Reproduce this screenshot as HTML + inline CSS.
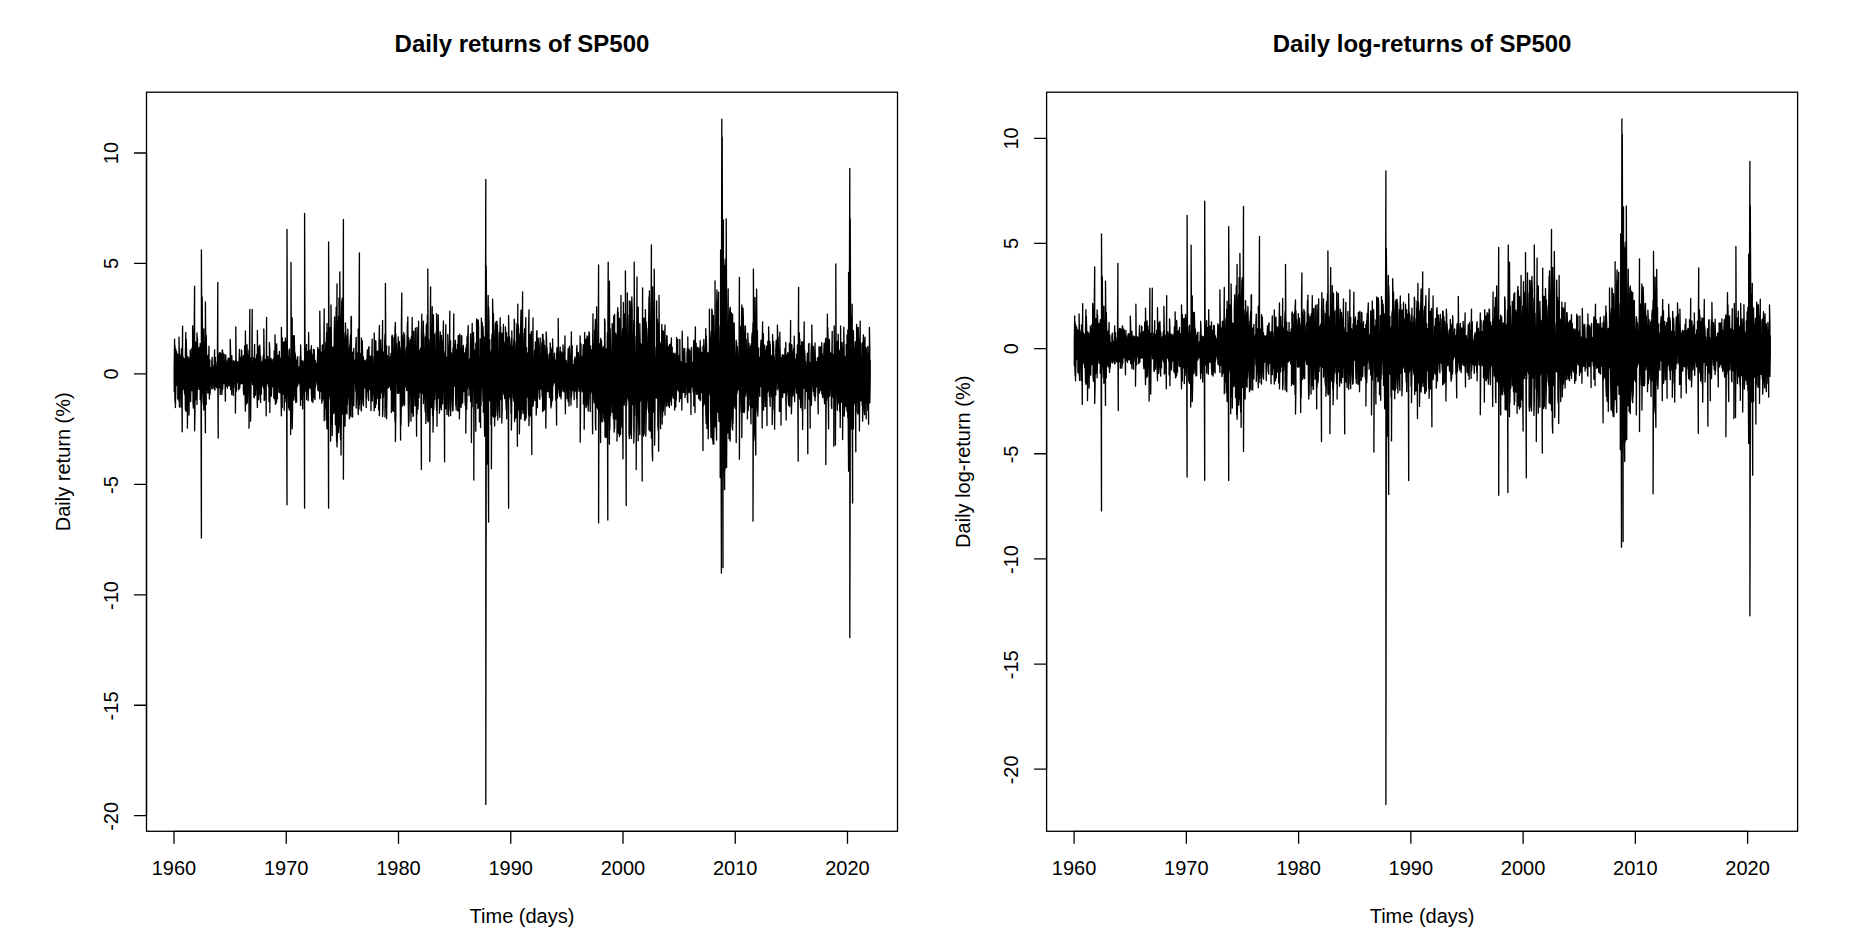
<!DOCTYPE html>
<html lang="en"><head><meta charset="utf-8"><title>Daily returns of SP500</title>
<style>
html,body{margin:0;padding:0;background:#fff;}
body{width:1872px;height:952px;overflow:hidden;}
svg{display:block;}
svg text{font-family:"Liberation Sans",Arial,Helvetica,sans-serif;fill:#000;}
</style></head><body>
<svg width="1872" height="952" viewBox="0 0 1872 952">
<rect width="1872" height="952" fill="#fff"/>
<g transform="translate(0,0)">
<path d="M174.2 391.2 174.2 366.8L174.6 339.2 174.6 385.2L175.0 402.1 175.0 345.5L175.4 364.3 175.4 407.5L175.8 391.2 175.8 349.1L176.2 368.4 176.2 385.7L176.6 379.6 176.6 351.7L177.0 358.9 177.0 380.8L177.4 385.0 177.4 362.6L177.8 354.3 177.8 399.0L178.2 383.2 178.2 362.9L178.6 358.1 178.6 386.3L179.0 401.3 179.0 337.1L179.4 361.2 179.4 407.1L179.8 386.0 179.8 357.2L180.2 357.8 180.2 388.0L180.6 387.7 180.6 358.8L181.0 354.1 181.0 407.2L181.4 388.5 181.4 348.8L181.8 362.1 181.8 385.8L182.2 431.8 182.2 365.5L182.6 326.2 182.6 389.1L183.0 389.0 183.0 356.6L183.4 360.6 183.4 387.0L183.8 386.0 183.8 358.6L184.2 358.9 184.2 388.7L184.6 393.9 184.6 366.3L185.0 362.0 185.0 378.7L185.4 409.2 185.4 355.2L185.8 332.5 185.8 411.0L186.2 411.0 186.2 339.4L186.6 353.0 186.6 402.2L187.0 397.3 187.0 361.7L187.4 367.2 187.4 428.0L187.8 390.4 187.8 356.4L188.2 358.4 188.2 375.3L188.6 385.4 188.6 358.7L189.0 361.8 189.0 415.0L189.4 384.1 189.4 361.7L189.8 357.4 189.8 395.7L190.2 379.9 190.2 350.0L190.6 357.1 190.6 401.7L191.0 383.8 191.0 353.3L191.4 361.9 191.4 388.5L191.8 390.7 191.8 348.4L192.2 367.7 192.2 384.6L192.6 385.8 192.6 326.0L193.0 335.2 193.0 403.2L193.4 408.0 193.4 374.9L193.8 359.3 193.8 394.6L194.2 392.8 194.2 326.0L194.6 286.2 194.6 430.8L195.0 411.5 195.0 352.9L195.4 345.0 195.4 400.3L195.8 383.9 195.8 342.1L196.2 350.9 196.2 399.3L196.6 394.9 196.6 365.6L197.0 332.9 197.0 404.4L197.4 383.5 197.4 337.7L197.8 354.2 197.8 379.9L198.2 384.2 198.2 356.7L198.6 355.0 198.6 385.1L199.0 389.4 199.0 347.3L199.4 360.5 199.4 381.4L199.8 384.5 199.8 368.4L200.2 343.3 200.2 399.6L200.6 388.4 200.6 353.4L201.0 355.7 201.0 393.4L201.4 538.0 201.4 250.0L201.8 331.9 201.8 404.1L202.2 381.5 202.2 297.0L202.6 352.5 202.6 386.3L203.0 393.4 203.0 364.3L203.4 349.6 203.4 391.8L203.8 410.0 203.8 328.8L204.2 355.3 204.2 379.3L204.6 375.1 204.6 355.5L205.0 353.0 205.0 386.0L205.4 432.8 205.4 302.0L205.8 346.5 205.8 384.8L206.2 404.4 206.2 335.4L206.6 355.1 206.6 390.5L207.0 385.7 207.0 355.9L207.4 367.0 207.4 379.6L207.8 393.0 207.8 362.0L208.2 355.2 208.2 392.1L208.6 388.7 208.6 362.0L209.0 346.2 209.0 383.8L209.4 399.0 209.4 361.9L209.8 360.1 209.8 394.9L210.2 392.2 210.2 367.1L210.6 370.0 210.6 382.4L211.0 379.6 211.0 368.3L211.4 367.6 211.4 380.8L211.8 388.8 211.8 361.1L212.2 357.5 212.2 388.8L212.6 381.1 212.6 365.0L213.0 370.5 213.0 378.0L213.4 383.5 213.4 371.9L213.8 367.2 213.8 388.2L214.2 382.6 214.2 364.8L214.6 349.8 214.6 389.9L215.0 389.8 215.0 359.8L215.4 357.3 215.4 383.6L215.8 386.1 215.8 362.0L216.2 369.9 216.2 378.8L216.6 387.6 216.6 372.9L217.0 366.2 217.0 382.3L217.4 387.8 217.4 364.9L217.8 282.5 217.8 377.6L218.2 438.0 218.2 364.9L218.6 356.0 218.6 383.1L219.0 387.8 219.0 358.3L219.4 352.6 219.4 385.1L219.8 380.5 219.8 366.4L220.2 356.8 220.2 394.4L220.6 382.7 220.6 352.9L221.0 353.9 221.0 386.5L221.4 381.6 221.4 365.9L221.8 360.2 221.8 394.4L222.2 389.8 222.2 349.9L222.6 350.5 222.6 389.5L223.0 382.4 223.0 352.7L223.4 364.3 223.4 378.7L223.8 383.6 223.8 367.7L224.2 354.3 224.2 383.1L224.6 380.9 224.6 363.5L225.0 364.8 225.0 380.3L225.4 401.2 225.4 365.5L225.8 354.9 225.8 380.6L226.2 386.3 226.2 360.2L226.6 364.3 226.6 381.1L227.0 376.7 227.0 366.5L227.4 365.4 227.4 388.3L227.8 381.3 227.8 361.0L228.2 358.1 228.2 379.8L228.6 385.5 228.6 371.0L229.0 358.4 229.0 381.8L229.4 378.1 229.4 366.5L229.8 365.2 229.8 385.9L230.2 382.3 230.2 339.5L230.6 350.8 230.6 389.6L231.0 384.6 231.0 369.7L231.4 360.5 231.4 384.6L231.8 394.7 231.8 355.6L232.2 369.5 232.2 380.2L232.6 377.7 232.6 370.4L233.0 362.5 233.0 381.0L233.4 395.5 233.4 360.7L233.8 361.0 233.8 387.7L234.2 380.4 234.2 368.0L234.6 366.0 234.6 378.1L235.0 378.5 235.0 362.4L235.4 361.0 235.4 413.0L235.8 380.8 235.8 326.8L236.2 370.0 236.2 391.3L236.6 389.9 236.6 366.0L237.0 361.3 237.0 383.3L237.4 378.4 237.4 367.5L237.8 364.6 237.8 381.5L238.2 378.6 238.2 362.2L238.6 362.5 238.6 389.7L239.0 389.2 239.0 365.2L239.4 349.5 239.4 382.0L239.8 387.8 239.8 356.5L240.2 359.9 240.2 378.3L240.6 378.1 240.6 361.0L241.0 364.6 241.0 383.9L241.4 379.5 241.4 349.9L241.8 351.0 241.8 379.3L242.2 383.5 242.2 364.4L242.6 357.6 242.6 381.8L243.0 382.1 243.0 362.8L243.4 355.7 243.4 389.7L243.8 394.8 243.8 365.9L244.2 359.3 244.2 378.7L244.6 387.9 244.6 346.0L245.0 348.2 245.0 388.7L245.4 411.2 245.4 331.0L245.8 355.8 245.8 395.3L246.2 386.2 246.2 364.2L246.6 349.0 246.6 404.0L247.0 395.2 247.0 344.7L247.4 356.2 247.4 402.5L247.8 387.0 247.8 354.8L248.2 359.7 248.2 382.7L248.6 385.7 248.6 360.3L249.0 350.0 249.0 428.2L249.4 390.9 249.4 367.1L249.8 309.5 249.8 377.0L250.2 385.4 250.2 359.5L250.6 365.9 250.6 421.2L251.0 385.1 251.0 357.8L251.4 367.9 251.4 380.8L251.8 379.8 251.8 359.3L252.2 309.5 252.2 377.7L252.6 384.6 252.6 368.3L253.0 363.5 253.0 379.8L253.4 375.4 253.4 365.0L253.8 357.4 253.8 397.0L254.2 397.8 254.2 363.1L254.6 344.3 254.6 389.1L255.0 390.5 255.0 358.8L255.4 358.9 255.4 395.3L255.8 384.8 255.8 364.4L256.2 359.4 256.2 381.5L256.6 386.1 256.6 354.7L257.0 362.6 257.0 393.6L257.4 407.5 257.4 330.5L257.8 364.8 257.8 380.9L258.2 384.1 258.2 346.6L258.6 357.2 258.6 399.8L259.0 393.2 259.0 362.4L259.4 346.2 259.4 390.7L259.8 386.6 259.8 345.2L260.2 357.4 260.2 386.3L260.6 402.6 260.6 356.5L261.0 363.8 261.0 388.1L261.4 394.1 261.4 371.0L261.8 368.0 261.8 380.6L262.2 379.9 262.2 362.7L262.6 361.0 262.6 383.1L263.0 386.6 263.0 359.5L263.4 355.0 263.4 385.1L263.8 388.7 263.8 329.0L264.2 356.7 264.2 400.4L264.6 399.4 264.6 365.4L265.0 359.9 265.0 386.1L265.4 385.1 265.4 359.8L265.8 367.5 265.8 377.8L266.2 415.8 266.2 372.2L266.6 317.5 266.6 383.1L267.0 379.0 267.0 371.2L267.4 370.3 267.4 383.9L267.8 382.5 267.8 356.4L268.2 368.5 268.2 383.3L268.6 387.2 268.6 359.8L269.0 363.1 269.0 401.4L269.4 392.4 269.4 342.4L269.8 351.3 269.8 412.5L270.2 384.8 270.2 367.1L270.6 365.0 270.6 385.6L271.0 388.5 271.0 358.3L271.4 365.4 271.4 396.2L271.8 384.5 271.8 364.6L272.2 359.6 272.2 386.1L272.6 386.8 272.6 367.7L273.0 365.1 273.0 381.4L273.4 385.7 273.4 365.2L273.8 358.1 273.8 398.2L274.2 393.5 274.2 350.9L274.6 353.3 274.6 397.5L275.0 400.0 275.0 335.0L275.4 355.9 275.4 404.3L275.8 404.0 275.8 360.1L276.2 352.8 276.2 401.8L276.6 402.1 276.6 344.0L277.0 360.3 277.0 398.9L277.4 398.6 277.4 367.1L277.8 362.1 277.8 383.2L278.2 384.4 278.2 355.3L278.6 369.6 278.6 382.1L279.0 392.2 279.0 364.6L279.4 351.5 279.4 383.5L279.8 392.7 279.8 367.9L280.2 366.4 280.2 392.3L280.6 388.7 280.6 358.3L281.0 358.0 281.0 393.4L281.4 415.8 281.4 327.5L281.8 360.2 281.8 402.2L282.2 407.7 282.2 338.0L282.6 355.2 282.6 386.6L283.0 394.1 283.0 342.1L283.4 354.3 283.4 389.6L283.8 389.0 283.8 348.2L284.2 342.1 284.2 410.3L284.6 389.3 284.6 355.6L285.0 341.4 285.0 402.0L285.4 387.1 285.4 337.8L285.8 346.5 285.8 380.1L286.2 397.9 286.2 341.9L286.6 346.1 286.6 392.6L287.0 504.8 287.0 229.5L287.4 363.2 287.4 392.8L287.8 386.9 287.8 357.0L288.2 361.4 288.2 384.3L288.6 407.6 288.6 365.1L289.0 350.4 289.0 408.2L289.4 410.1 289.4 349.0L289.8 367.1 289.8 394.0L290.2 396.5 290.2 366.5L290.6 358.5 290.6 434.5L291.0 406.9 291.0 262.5L291.4 354.6 291.4 397.1L291.8 411.5 291.8 327.0L292.2 318.0 292.2 428.8L292.6 408.8 292.6 340.3L293.0 346.5 293.0 399.1L293.4 395.9 293.4 335.6L293.8 351.1 293.8 400.1L294.2 396.0 294.2 335.6L294.6 350.2 294.6 391.4L295.0 391.5 295.0 352.7L295.4 355.3 295.4 390.8L295.8 402.5 295.8 359.1L296.2 365.3 296.2 395.0L296.6 401.9 296.6 360.7L297.0 364.6 297.0 386.9L297.4 384.2 297.4 357.0L297.8 356.9 297.8 385.6L298.2 378.2 298.2 372.8L298.6 367.5 298.6 382.9L299.0 382.6 299.0 367.0L299.4 369.6 299.4 375.4L299.8 384.3 299.8 371.7L300.2 356.1 300.2 388.2L300.6 405.4 300.6 344.9L301.0 357.9 301.0 399.8L301.4 399.2 301.4 360.3L301.8 362.2 301.8 378.2L302.2 393.8 302.2 361.5L302.6 364.1 302.6 408.8L303.0 381.2 303.0 360.9L303.4 366.3 303.4 394.5L303.8 391.6 303.8 368.4L304.2 362.9 304.2 384.7L304.6 508.0 304.6 213.5L305.0 344.2 305.0 385.9L305.4 380.7 305.4 351.6L305.8 359.1 305.8 391.2L306.2 384.5 306.2 351.6L306.6 344.3 306.6 399.5L307.0 384.3 307.0 362.9L307.4 359.2 307.4 383.4L307.8 385.6 307.8 351.5L308.2 365.9 308.2 400.8L308.6 385.2 308.6 332.5L309.0 363.1 309.0 388.1L309.4 384.1 309.4 368.6L309.8 357.8 309.8 387.8L310.2 378.1 310.2 350.2L310.6 350.5 310.6 388.2L311.0 388.8 311.0 356.9L311.4 345.7 311.4 393.9L311.8 401.1 311.8 353.8L312.2 356.0 312.2 382.1L312.6 391.0 312.6 364.8L313.0 361.3 313.0 402.5L313.4 380.7 313.4 349.4L313.8 352.5 313.8 383.5L314.2 397.6 314.2 349.6L314.6 363.1 314.6 385.1L315.0 399.5 315.0 370.6L315.4 360.6 315.4 387.3L315.8 380.8 315.8 367.6L316.2 363.5 316.2 379.0L316.6 380.7 316.6 365.0L317.0 363.6 317.0 380.3L317.4 385.0 317.4 359.8L317.8 347.4 317.8 389.4L318.2 390.8 318.2 365.2L318.6 349.3 318.6 384.0L319.0 384.0 319.0 364.2L319.4 361.0 319.4 386.2L319.8 398.8 319.8 311.2L320.2 347.9 320.2 386.6L320.6 391.7 320.6 351.6L321.0 353.7 321.0 389.9L321.4 391.4 321.4 356.0L321.8 359.3 321.8 403.2L322.2 397.2 322.2 345.7L322.6 344.9 322.6 400.3L323.0 382.8 323.0 359.8L323.4 357.1 323.4 398.4L323.8 395.7 323.8 351.3L324.2 308.8 324.2 420.8L324.6 395.8 324.6 350.4L325.0 353.2 325.0 408.3L325.4 386.8 325.4 362.2L325.8 342.5 325.8 396.8L326.2 419.8 326.2 346.3L326.6 332.3 326.6 402.8L327.0 428.8 327.0 323.4L327.4 340.7 327.4 415.7L327.8 382.3 327.8 359.1L328.2 338.5 328.2 401.2L328.6 508.2 328.6 242.0L329.0 336.4 329.0 398.6L329.4 389.9 329.4 346.8L329.8 327.6 329.8 393.4L330.2 395.4 330.2 353.9L330.6 364.2 330.6 441.2L331.0 377.1 331.0 305.0L331.4 340.2 331.4 423.8L331.8 400.2 331.8 352.8L332.2 346.8 332.2 435.5L332.6 402.4 332.6 354.8L333.0 349.7 333.0 399.8L333.4 413.3 333.4 347.3L333.8 348.5 333.8 389.0L334.2 384.0 334.2 332.5L334.6 316.8 334.6 410.8L335.0 413.3 335.0 351.4L335.4 330.6 335.4 424.7L335.8 385.7 335.8 343.5L336.2 307.1 336.2 414.4L336.6 442.0 336.6 360.4L337.0 283.8 337.0 446.9L337.4 433.0 337.4 354.2L337.8 349.2 337.8 392.5L338.2 413.8 338.2 325.8L338.6 316.2 338.6 432.5L339.0 394.7 339.0 298.1L339.4 303.5 339.4 393.7L339.8 426.2 339.8 271.8L340.2 326.8 340.2 426.1L340.6 439.8 340.6 321.8L341.0 351.3 341.0 455.0L341.4 403.3 341.4 325.6L341.8 300.7 341.8 402.2L342.2 414.3 342.2 298.2L342.6 353.4 342.6 396.6L343.0 394.3 343.0 345.8L343.4 219.5 343.4 479.2L343.8 394.0 343.8 332.8L344.2 343.7 344.2 391.9L344.6 418.3 344.6 351.5L345.0 339.9 345.0 426.2L345.4 399.0 345.4 323.0L345.8 334.3 345.8 412.4L346.2 412.8 346.2 341.3L346.6 350.6 346.6 394.7L347.0 414.1 347.0 339.3L347.4 334.8 347.4 404.8L347.8 394.4 347.8 329.1L348.2 349.3 348.2 397.0L348.6 382.6 348.6 364.7L349.0 349.6 349.0 387.9L349.4 418.8 349.4 355.3L349.8 344.8 349.8 410.0L350.2 415.2 350.2 342.4L350.6 334.6 350.6 391.8L351.0 416.8 351.0 317.0L351.4 316.4 351.4 400.0L351.8 397.5 351.8 361.2L352.2 358.8 352.2 389.0L352.6 417.0 352.6 352.2L353.0 364.0 353.0 393.5L353.4 396.7 353.4 357.1L353.8 348.4 353.8 405.7L354.2 381.9 354.2 363.8L354.6 371.4 354.6 381.9L355.0 381.6 355.0 362.6L355.4 359.3 355.4 377.4L355.8 391.3 355.8 345.6L356.2 337.3 356.2 408.1L356.6 392.1 356.6 363.7L357.0 352.8 357.0 396.1L357.4 390.5 357.4 356.4L357.8 363.7 357.8 397.7L358.2 414.6 358.2 329.1L358.6 347.9 358.6 398.1L359.0 409.2 359.0 331.6L359.4 253.0 359.4 405.0L359.8 392.0 359.8 356.4L360.2 353.4 360.2 399.4L360.6 392.0 360.6 367.1L361.0 373.5 361.0 409.1L361.4 410.9 361.4 337.9L361.8 352.7 361.8 404.0L362.2 395.5 362.2 340.7L362.6 354.1 362.6 398.4L363.0 380.8 363.0 368.7L363.4 357.0 363.4 405.8L363.8 384.9 363.8 366.9L364.2 363.1 364.2 388.3L364.6 380.6 364.6 360.4L365.0 365.0 365.0 382.9L365.4 387.6 365.4 364.8L365.8 361.4 365.8 386.2L366.2 407.4 366.2 359.9L366.6 365.9 366.6 398.9L367.0 384.5 367.0 359.8L367.4 349.9 367.4 391.1L367.8 380.7 367.8 359.9L368.2 369.7 368.2 387.6L368.6 400.6 368.6 348.6L369.0 346.7 369.0 383.6L369.4 389.6 369.4 365.4L369.8 356.0 369.8 378.0L370.2 388.7 370.2 361.5L370.6 363.5 370.6 378.4L371.0 410.5 371.0 356.5L371.4 359.9 371.4 390.7L371.8 396.6 371.8 356.4L372.2 339.2 372.2 401.1L372.6 381.7 372.6 356.6L373.0 367.5 373.0 394.2L373.4 385.2 373.4 364.9L373.8 363.3 373.8 391.3L374.2 410.8 374.2 333.0L374.6 359.3 374.6 378.9L375.0 387.7 375.0 360.2L375.4 340.9 375.4 407.5L375.8 389.9 375.8 340.7L376.2 360.2 376.2 404.2L376.6 389.1 376.6 363.8L377.0 351.1 377.0 379.7L377.4 385.4 377.4 363.4L377.8 362.5 377.8 398.6L378.2 393.6 378.2 351.2L378.6 359.7 378.6 409.9L379.0 394.4 379.0 344.6L379.4 325.5 379.4 415.7L379.8 389.3 379.8 355.8L380.2 363.9 380.2 382.4L380.6 398.2 380.6 339.9L381.0 354.5 381.0 393.6L381.4 381.0 381.4 362.1L381.8 353.7 381.8 391.8L382.2 392.0 382.2 353.9L382.6 320.5 382.6 416.4L383.0 408.0 383.0 364.9L383.4 352.1 383.4 397.1L383.8 389.4 383.8 352.7L384.2 352.6 384.2 383.6L384.6 382.3 384.6 344.8L385.0 334.1 385.0 417.0L385.4 393.9 385.4 283.5L385.8 347.1 385.8 388.5L386.2 407.0 386.2 363.0L386.6 346.2 386.6 418.8L387.0 387.5 387.0 356.1L387.4 355.6 387.4 385.8L387.8 381.7 387.8 368.3L388.2 369.1 388.2 388.0L388.6 386.9 388.6 369.7L389.0 346.1 389.0 386.6L389.4 386.5 389.4 367.0L389.8 357.5 389.8 385.7L390.2 380.6 390.2 361.4L390.6 356.6 390.6 389.8L391.0 388.9 391.0 353.4L391.4 357.2 391.4 412.4L391.8 391.8 391.8 337.2L392.2 335.2 392.2 384.8L392.6 410.3 392.6 348.9L393.0 337.4 393.0 381.6L393.4 411.4 393.4 370.7L393.8 350.0 393.8 381.7L394.2 394.7 394.2 357.8L394.6 334.9 394.6 392.9L395.0 421.7 395.0 329.6L395.4 322.3 395.4 441.5L395.8 416.0 395.8 333.7L396.2 347.3 396.2 377.8L396.6 377.4 396.6 343.3L397.0 361.0 397.0 377.5L397.4 393.3 397.4 349.6L397.8 362.6 397.8 382.7L398.2 384.6 398.2 337.0L398.6 360.8 398.6 393.3L399.0 391.5 399.0 348.1L399.4 341.7 399.4 386.4L399.8 384.7 399.8 346.9L400.2 353.3 400.2 395.5L400.6 440.0 400.6 355.3L401.0 364.8 401.0 425.1L401.4 397.5 401.4 323.3L401.8 293.0 401.8 386.6L402.2 400.5 402.2 334.7L402.6 342.9 402.6 406.1L403.0 378.1 403.0 355.1L403.4 348.0 403.4 403.8L403.8 401.6 403.8 332.4L404.2 349.2 404.2 403.1L404.6 405.3 404.6 335.0L405.0 370.5 405.0 385.6L405.4 379.9 405.4 358.2L405.8 357.9 405.8 381.8L406.2 387.6 406.2 351.4L406.6 346.8 406.6 390.4L407.0 389.5 407.0 345.4L407.4 322.5 407.4 390.5L407.8 384.8 407.8 317.0L408.2 365.8 408.2 400.7L408.6 426.2 408.6 337.3L409.0 347.2 409.0 422.6L409.4 392.5 409.4 357.6L409.8 361.8 409.8 390.2L410.2 382.7 410.2 340.8L410.6 339.5 410.6 384.3L411.0 421.0 411.0 350.3L411.4 336.5 411.4 407.5L411.8 412.8 411.8 350.9L412.2 317.5 412.2 403.3L412.6 401.4 412.6 346.1L413.0 344.6 413.0 416.6L413.4 415.6 413.4 331.1L413.8 331.6 413.8 395.7L414.2 385.1 414.2 350.9L414.6 352.4 414.6 387.2L415.0 405.8 415.0 356.2L415.4 328.2 415.4 404.0L415.8 393.9 415.8 346.5L416.2 354.7 416.2 390.1L416.6 436.2 416.6 361.1L417.0 327.3 417.0 414.3L417.4 397.4 417.4 346.5L417.8 334.4 417.8 409.4L418.2 405.3 418.2 359.3L418.6 321.2 418.6 393.8L419.0 397.7 419.0 364.9L419.4 350.4 419.4 393.1L419.8 392.2 419.8 362.1L420.2 353.6 420.2 374.7L420.6 386.6 420.6 348.2L421.0 352.1 421.0 401.2L421.4 469.5 421.4 335.3L421.8 314.2 421.8 383.6L422.2 393.5 422.2 365.2L422.6 345.8 422.6 390.7L423.0 392.0 423.0 350.7L423.4 321.2 423.4 403.6L423.8 394.6 423.8 333.8L424.2 358.7 424.2 394.1L424.6 391.0 424.6 358.6L425.0 367.9 425.0 407.6L425.4 412.2 425.4 337.0L425.8 338.6 425.8 423.4L426.2 415.2 426.2 327.8L426.6 323.8 426.6 393.6L427.0 389.8 427.0 347.1L427.4 315.2 427.4 383.5L427.8 420.8 427.8 268.8L428.2 353.5 428.2 422.0L428.6 381.1 428.6 339.2L429.0 345.9 429.0 420.1L429.4 412.7 429.4 362.0L429.8 351.2 429.8 461.5L430.2 404.5 430.2 333.4L430.6 287.0 430.6 393.1L431.0 403.1 431.0 349.7L431.4 351.6 431.4 407.5L431.8 394.6 431.8 338.8L432.2 306.7 432.2 393.0L432.6 415.7 432.6 314.3L433.0 319.3 433.0 432.0L433.4 411.8 433.4 315.0L433.8 365.5 433.8 409.0L434.2 388.9 434.2 351.8L434.6 334.1 434.6 399.5L435.0 387.5 435.0 350.5L435.4 369.2 435.4 383.9L435.8 392.4 435.8 364.8L436.2 332.0 436.2 397.4L436.6 410.6 436.6 313.6L437.0 339.7 437.0 426.3L437.4 387.5 437.4 340.6L437.8 331.1 437.8 398.0L438.2 398.3 438.2 315.0L438.6 338.5 438.6 393.1L439.0 397.0 439.0 343.8L439.4 350.7 439.4 413.2L439.8 406.6 439.8 352.1L440.2 332.0 440.2 388.6L440.6 406.2 440.6 376.9L441.0 336.1 441.0 404.6L441.4 409.7 441.4 335.5L441.8 353.4 441.8 396.0L442.2 373.0 442.2 344.7L442.6 342.0 442.6 403.9L443.0 387.8 443.0 343.4L443.4 321.0 443.4 386.3L443.8 382.2 443.8 351.3L444.2 357.7 444.2 389.1L444.6 461.8 444.6 360.2L445.0 365.0 445.0 377.1L445.4 389.4 445.4 348.6L445.8 324.7 445.8 408.7L446.2 385.3 446.2 367.4L446.6 357.1 446.6 390.9L447.0 414.5 447.0 358.7L447.4 361.1 447.4 395.7L447.8 394.6 447.8 334.5L448.2 348.4 448.2 389.6L448.6 416.2 448.6 351.7L449.0 355.2 449.0 381.4L449.4 397.7 449.4 360.7L449.8 311.2 449.8 392.9L450.2 410.7 450.2 344.8L450.6 341.0 450.6 415.7L451.0 386.1 451.0 358.9L451.4 352.9 451.4 393.5L451.8 382.7 451.8 354.9L452.2 360.1 452.2 400.1L452.6 410.9 452.6 363.7L453.0 347.8 453.0 410.4L453.4 393.4 453.4 351.0L453.8 313.8 453.8 378.5L454.2 385.4 454.2 343.2L454.6 365.9 454.6 386.1L455.0 383.9 455.0 366.1L455.4 340.4 455.4 383.7L455.8 405.7 455.8 363.1L456.2 357.2 456.2 410.0L456.6 388.8 456.6 349.3L457.0 371.2 457.0 384.4L457.4 395.8 457.4 344.4L457.8 375.7 457.8 411.0L458.2 401.5 458.2 335.9L458.6 335.6 458.6 410.8L459.0 408.5 459.0 349.2L459.4 352.7 459.4 418.8L459.8 391.7 459.8 334.2L460.2 362.6 460.2 384.6L460.6 381.1 460.6 352.0L461.0 347.2 461.0 407.3L461.4 404.3 461.4 335.6L461.8 336.2 461.8 397.0L462.2 401.9 462.2 361.5L462.6 371.4 462.6 403.0L463.0 385.3 463.0 349.6L463.4 345.5 463.4 383.9L463.8 391.6 463.8 364.4L464.2 358.1 464.2 378.6L464.6 390.6 464.6 352.8L465.0 366.2 465.0 399.7L465.4 405.4 465.4 373.4L465.8 348.2 465.8 433.2L466.2 382.1 466.2 362.4L466.6 344.3 466.6 409.4L467.0 395.5 467.0 336.8L467.4 359.3 467.4 389.0L467.8 383.6 467.8 336.0L468.2 325.5 468.2 379.5L468.6 383.4 468.6 366.6L469.0 364.4 469.0 395.5L469.4 382.1 469.4 361.9L469.8 358.6 469.8 376.8L470.2 388.3 470.2 356.1L470.6 334.0 470.6 401.5L471.0 377.6 471.0 347.2L471.4 345.6 471.4 442.5L471.8 387.0 471.8 354.3L472.2 323.3 472.2 406.8L472.6 374.8 472.6 344.3L473.0 350.8 473.0 389.0L473.4 377.9 473.4 332.5L473.8 344.6 473.8 480.0L474.2 391.1 474.2 356.8L474.6 369.0 474.6 386.2L475.0 387.6 475.0 350.2L475.4 352.1 475.4 383.3L475.8 431.2 475.8 343.4L476.2 349.5 476.2 399.8L476.6 389.4 476.6 318.9L477.0 320.5 477.0 403.1L477.4 386.1 477.4 363.2L477.8 331.6 477.8 408.5L478.2 407.0 478.2 319.9L478.6 327.0 478.6 385.0L479.0 390.1 479.0 358.2L479.4 367.8 479.4 421.8L479.8 405.0 479.8 372.5L480.2 338.8 480.2 396.6L480.6 427.5 480.6 340.7L481.0 341.7 481.0 405.6L481.4 379.3 481.4 318.2L481.8 335.0 481.8 387.4L482.2 386.8 482.2 322.7L482.6 351.5 482.6 380.9L483.0 401.2 483.0 326.6L483.4 340.3 483.4 412.3L483.8 400.6 483.8 353.5L484.2 337.1 484.2 400.9L484.6 436.2 484.6 348.0L485.0 345.4 485.0 418.5L485.4 422.5 485.4 339.8L485.8 179.3 485.8 804.4L486.2 467.0 486.2 266.0L486.6 310.6 486.6 428.0L487.0 464.0 487.0 339.3L487.4 333.1 487.4 461.0L487.8 420.8 487.8 355.6L488.2 295.5 488.2 455.0L488.6 522.0 488.6 307.0L489.0 322.0 489.0 388.3L489.4 384.9 489.4 347.7L489.8 339.8 489.8 400.4L490.2 400.9 490.2 352.2L490.6 358.7 490.6 388.5L491.0 424.4 491.0 369.4L491.4 350.2 491.4 468.8L491.8 390.2 491.8 337.6L492.2 333.8 492.2 416.0L492.6 396.6 492.6 299.2L493.0 324.4 493.0 391.2L493.4 417.1 493.4 313.4L493.8 342.6 493.8 398.0L494.2 396.2 494.2 344.5L494.6 354.2 494.6 425.9L495.0 400.4 495.0 337.7L495.4 323.2 495.4 416.7L495.8 408.7 495.8 323.6L496.2 321.5 496.2 392.5L496.6 389.5 496.6 349.8L497.0 321.5 497.0 392.8L497.4 415.7 497.4 324.8L497.8 338.6 497.8 420.0L498.2 390.2 498.2 351.4L498.6 351.2 498.6 405.0L499.0 388.7 499.0 369.9L499.4 332.4 499.4 407.7L499.8 417.5 499.8 344.9L500.2 317.8 500.2 384.4L500.6 399.7 500.6 326.9L501.0 352.2 501.0 392.2L501.4 380.5 501.4 360.0L501.8 333.5 501.8 423.0L502.2 409.7 502.2 348.0L502.6 333.1 502.6 389.8L503.0 390.1 503.0 363.4L503.4 324.5 503.4 390.4L503.8 394.3 503.8 349.5L504.2 344.0 504.2 383.3L504.6 398.5 504.6 356.3L505.0 341.5 505.0 392.5L505.4 394.2 505.4 326.8L505.8 339.6 505.8 399.0L506.2 409.4 506.2 352.8L506.6 332.6 506.6 418.7L507.0 393.3 507.0 344.7L507.4 337.5 507.4 398.9L507.8 399.0 507.8 362.7L508.2 345.5 508.2 398.5L508.6 508.2 508.6 315.5L509.0 341.5 509.0 399.0L509.4 391.3 509.4 336.4L509.8 348.8 509.8 390.0L510.2 396.7 510.2 348.2L510.6 348.8 510.6 382.8L511.0 413.2 511.0 348.6L511.4 338.4 511.4 430.0L511.8 398.7 511.8 330.9L512.2 353.0 512.2 383.8L512.6 384.7 512.6 346.1L513.0 349.4 513.0 389.2L513.4 398.6 513.4 353.3L513.8 339.8 513.8 401.0L514.2 396.1 514.2 319.1L514.6 323.0 514.6 421.6L515.0 383.1 515.0 352.5L515.4 354.3 515.4 388.0L515.8 418.1 515.8 353.6L516.2 341.8 516.2 415.5L516.6 405.0 516.6 331.6L517.0 323.3 517.0 391.3L517.4 446.2 517.4 359.8L517.8 304.2 517.8 410.9L518.2 393.7 518.2 324.4L518.6 329.8 518.6 409.1L519.0 395.1 519.0 333.4L519.4 342.2 519.4 433.8L519.8 406.5 519.8 336.2L520.2 351.4 520.2 395.8L520.6 407.5 520.6 329.7L521.0 310.2 521.0 419.1L521.4 407.9 521.4 326.3L521.8 339.5 521.8 395.4L522.2 389.5 522.2 332.1L522.6 291.8 522.6 406.2L523.0 413.4 523.0 332.8L523.4 347.7 523.4 385.7L523.8 409.0 523.8 355.6L524.2 343.1 524.2 396.4L524.6 420.4 524.6 329.0L525.0 352.9 525.0 420.5L525.4 403.4 525.4 332.2L525.8 317.6 525.8 418.7L526.2 416.8 526.2 358.3L526.6 347.6 526.6 387.0L527.0 394.4 527.0 363.4L527.4 359.1 527.4 397.0L527.8 392.1 527.8 352.8L528.2 354.5 528.2 402.6L528.6 415.3 528.6 327.6L529.0 309.8 529.0 425.5L529.4 409.4 529.4 339.9L529.8 350.4 529.8 391.7L530.2 397.7 530.2 334.5L530.6 345.6 530.6 416.0L531.0 398.8 531.0 339.5L531.4 331.3 531.4 393.0L531.8 454.5 531.8 341.5L532.2 362.4 532.2 392.3L532.6 386.3 532.6 356.6L533.0 318.0 533.0 406.2L533.4 402.0 533.4 360.7L533.8 358.8 533.8 398.3L534.2 389.5 534.2 363.3L534.6 350.2 534.6 387.7L535.0 400.5 535.0 358.4L535.4 342.0 535.4 390.5L535.8 381.6 535.8 367.4L536.2 362.4 536.2 415.0L536.6 404.2 536.6 333.2L537.0 330.6 537.0 407.5L537.4 407.4 537.4 355.3L537.8 340.6 537.8 397.5L538.2 377.6 538.2 338.1L538.6 349.8 538.6 389.3L539.0 381.4 539.0 371.6L539.4 351.0 539.4 386.6L539.8 399.3 539.8 347.6L540.2 337.8 540.2 388.7L540.6 384.7 540.6 358.2L541.0 359.1 541.0 385.9L541.4 389.4 541.4 364.0L541.8 342.7 541.8 386.3L542.2 396.8 542.2 346.9L542.6 334.2 542.6 411.6L543.0 393.8 543.0 334.3L543.4 360.5 543.4 384.8L543.8 410.6 543.8 340.3L544.2 369.1 544.2 393.3L544.6 383.8 544.6 345.3L545.0 354.7 545.0 409.0L545.4 388.3 545.4 358.8L545.8 369.3 545.8 428.2L546.2 397.7 546.2 332.0L546.6 339.5 546.6 386.5L547.0 391.6 547.0 347.7L547.4 359.1 547.4 378.3L547.8 391.6 547.8 355.1L548.2 369.8 548.2 381.4L548.6 380.8 548.6 362.6L549.0 359.4 549.0 383.7L549.4 397.4 549.4 353.3L549.8 360.4 549.8 391.1L550.2 388.2 550.2 343.0L550.6 356.8 550.6 398.6L551.0 407.9 551.0 349.2L551.4 351.0 551.4 405.7L551.8 396.3 551.8 362.3L552.2 347.3 552.2 400.6L552.6 398.8 552.6 339.0L553.0 354.9 553.0 385.9L553.4 383.5 553.4 356.9L553.8 358.5 553.8 383.1L554.2 380.6 554.2 367.8L554.6 353.2 554.6 377.1L555.0 382.3 555.0 364.9L555.4 361.8 555.4 379.0L555.8 400.3 555.8 362.0L556.2 359.4 556.2 394.5L556.6 425.0 556.6 357.4L557.0 347.7 557.0 398.5L557.4 397.4 557.4 347.6L557.8 366.2 557.8 393.9L558.2 377.5 558.2 318.5L558.6 361.3 558.6 388.6L559.0 384.9 559.0 361.8L559.4 372.1 559.4 389.4L559.8 396.5 559.8 356.0L560.2 347.2 560.2 387.7L560.6 388.8 560.6 355.0L561.0 362.3 561.0 398.8L561.4 389.5 561.4 351.9L561.8 368.0 561.8 380.4L562.2 382.2 562.2 369.0L562.6 353.2 562.6 387.0L563.0 391.1 563.0 345.0L563.4 355.0 563.4 388.6L563.8 387.7 563.8 355.9L564.2 353.4 564.2 391.9L564.6 389.7 564.6 357.3L565.0 336.0 565.0 381.4L565.4 413.8 565.4 370.6L565.8 364.1 565.8 390.9L566.2 379.6 566.2 360.3L566.6 368.8 566.6 379.7L567.0 398.7 567.0 367.2L567.4 364.1 567.4 383.3L567.8 377.2 567.8 362.4L568.2 348.7 568.2 401.7L568.6 389.2 568.6 357.1L569.0 357.6 569.0 406.0L569.4 381.6 569.4 346.3L569.8 360.9 569.8 388.2L570.2 386.6 570.2 355.5L570.6 355.3 570.6 384.5L571.0 405.0 571.0 358.8L571.4 332.0 571.4 397.5L571.8 391.0 571.8 367.2L572.2 345.7 572.2 385.3L572.6 385.1 572.6 364.4L573.0 366.1 573.0 390.5L573.4 388.4 573.4 365.1L573.8 365.2 573.8 388.2L574.2 399.7 574.2 361.7L574.6 359.1 574.6 389.6L575.0 389.6 575.0 356.9L575.4 362.2 575.4 391.0L575.8 385.0 575.8 358.9L576.2 368.5 576.2 383.6L576.6 398.5 576.6 349.0L577.0 345.5 577.0 407.5L577.4 380.6 577.4 352.6L577.8 363.0 577.8 381.9L578.2 374.7 578.2 352.4L578.6 359.7 578.6 384.4L579.0 391.2 579.0 365.9L579.4 356.9 579.4 386.2L579.8 384.6 579.8 358.7L580.2 336.0 580.2 442.2L580.6 402.2 580.6 350.4L581.0 343.9 581.0 392.2L581.4 386.6 581.4 361.7L581.8 356.1 581.8 381.0L582.2 375.9 582.2 364.6L582.6 364.2 582.6 391.5L583.0 386.8 583.0 350.4L583.4 344.6 583.4 404.1L583.8 374.4 583.8 360.9L584.2 369.2 584.2 429.2L584.6 384.8 584.6 332.5L585.0 362.8 585.0 388.8L585.4 384.2 585.4 353.0L585.8 339.5 585.8 406.1L586.2 407.5 586.2 356.5L586.6 339.3 586.6 402.9L587.0 404.3 587.0 335.9L587.4 337.5 587.4 399.5L587.8 405.3 587.8 337.1L588.2 341.8 588.2 411.0L588.6 397.0 588.6 353.9L589.0 331.8 589.0 386.6L589.4 383.8 589.4 332.8L589.8 361.1 589.8 379.7L590.2 411.6 590.2 366.2L590.6 346.0 590.6 393.2L591.0 390.7 591.0 367.2L591.4 350.0 591.4 390.4L591.8 384.3 591.8 370.0L592.2 360.7 592.2 387.0L592.6 433.8 592.6 349.1L593.0 313.8 593.0 395.7L593.4 377.0 593.4 345.8L593.8 344.0 593.8 391.8L594.2 402.4 594.2 363.6L594.6 330.5 594.6 400.1L595.0 403.6 595.0 331.3L595.4 319.4 595.4 422.8L595.8 430.0 595.8 355.7L596.2 354.5 596.2 404.9L596.6 407.6 596.6 307.0L597.0 357.4 597.0 391.9L597.4 401.9 597.4 348.0L597.8 358.2 597.8 409.1L598.2 382.2 598.2 341.9L598.6 265.0 598.6 522.8L599.0 386.1 599.0 358.5L599.4 353.0 599.4 411.9L599.8 391.6 599.8 344.1L600.2 343.2 600.2 389.7L600.6 442.5 600.6 338.4L601.0 365.8 601.0 411.9L601.4 404.3 601.4 340.1L601.8 347.1 601.8 419.8L602.2 421.9 602.2 363.4L602.6 357.7 602.6 396.5L603.0 413.7 603.0 347.6L603.4 355.9 603.4 393.9L603.8 418.5 603.8 346.4L604.2 352.1 604.2 421.2L604.6 392.2 604.6 318.9L605.0 323.3 605.0 437.0L605.4 401.3 605.4 358.1L605.8 348.9 605.8 403.3L606.2 437.5 606.2 356.3L606.6 353.5 606.6 385.3L607.0 397.7 607.0 352.7L607.4 332.7 607.4 397.5L607.8 520.0 607.8 346.4L608.2 262.2 608.2 394.6L608.6 396.2 608.6 323.6L609.0 324.3 609.0 404.0L609.4 444.2 609.4 281.2L609.8 349.9 609.8 429.7L610.2 396.5 610.2 328.6L610.6 358.4 610.6 415.5L611.0 396.4 611.0 363.4L611.4 351.7 611.4 383.8L611.8 391.8 611.8 354.9L612.2 323.7 612.2 412.4L612.6 397.3 612.6 326.5L613.0 358.0 613.0 395.5L613.4 418.8 613.4 329.4L613.8 315.8 613.8 404.8L614.2 432.0 614.2 350.3L614.6 314.3 614.6 428.8L615.0 378.9 615.0 339.5L615.4 346.0 615.4 391.3L615.8 419.0 615.8 333.1L616.2 366.3 616.2 393.2L616.6 411.5 616.6 353.2L617.0 335.6 617.0 441.1L617.4 393.2 617.4 314.9L617.8 307.6 617.8 427.5L618.2 432.9 618.2 312.2L618.6 338.3 618.6 433.3L619.0 409.5 619.0 333.4L619.4 318.4 619.4 436.6L619.8 408.5 619.8 323.4L620.2 332.1 620.2 408.8L620.6 434.5 620.6 342.5L621.0 295.5 621.0 411.4L621.4 407.0 621.4 350.3L621.8 351.9 621.8 424.3L622.2 427.3 622.2 344.6L622.6 328.6 622.6 415.7L623.0 458.8 623.0 352.7L623.4 302.5 623.4 394.2L623.8 401.2 623.8 327.1L624.2 313.9 624.2 405.2L624.6 382.4 624.6 341.4L625.0 366.1 625.0 394.2L625.4 401.9 625.4 270.8L625.8 337.5 625.8 401.3L626.2 505.5 626.2 330.7L626.6 365.4 626.6 405.4L627.0 386.9 627.0 351.0L627.4 293.0 627.4 397.6L627.8 385.7 627.8 353.6L628.2 342.5 628.2 397.0L628.6 400.3 628.6 350.9L629.0 314.8 629.0 433.3L629.4 438.6 629.4 300.9L629.8 312.5 629.8 427.3L630.2 412.3 630.2 316.6L630.6 341.3 630.6 430.0L631.0 435.4 631.0 301.4L631.4 319.3 631.4 438.4L631.8 411.3 631.8 296.8L632.2 310.5 632.2 401.7L632.6 404.7 632.6 334.7L633.0 347.6 633.0 402.9L633.4 386.8 633.4 342.1L633.8 320.2 633.8 443.0L634.2 428.4 634.2 262.2L634.6 338.6 634.6 416.0L635.0 392.8 635.0 336.2L635.4 363.0 635.4 387.9L635.8 386.6 635.8 355.4L636.2 352.3 636.2 469.5L636.6 384.4 636.6 351.1L637.0 276.8 637.0 406.6L637.4 414.5 637.4 350.4L637.8 351.4 637.8 416.6L638.2 440.8 638.2 307.1L638.6 355.3 638.6 423.1L639.0 377.4 639.0 336.1L639.4 343.2 639.4 416.2L639.8 434.6 639.8 323.7L640.2 343.9 640.2 401.6L640.6 397.9 640.6 343.6L641.0 344.4 641.0 392.3L641.4 396.1 641.4 351.4L641.8 348.6 641.8 401.7L642.2 481.0 642.2 379.5L642.6 287.8 642.6 383.3L643.0 407.1 643.0 366.5L643.4 337.3 643.4 436.0L643.8 398.9 643.8 318.2L644.2 321.7 644.2 434.1L644.6 394.1 644.6 347.0L645.0 318.5 645.0 397.7L645.4 413.5 645.4 309.6L645.8 332.6 645.8 436.2L646.2 417.8 646.2 321.9L646.6 336.8 646.6 409.0L647.0 393.8 647.0 353.1L647.4 353.6 647.4 389.2L647.8 398.5 647.8 350.2L648.2 328.2 648.2 399.0L648.6 412.4 648.6 325.7L649.0 296.9 649.0 430.1L649.4 416.9 649.4 290.8L649.8 323.3 649.8 401.5L650.2 431.2 650.2 336.6L650.6 338.8 650.6 402.2L651.0 398.7 651.0 328.8L651.4 245.0 651.4 438.1L651.8 419.7 651.8 363.8L652.2 341.5 652.2 451.3L652.6 460.8 652.6 286.9L653.0 324.3 653.0 406.6L653.4 412.3 653.4 322.0L653.8 335.6 653.8 389.7L654.2 406.3 654.2 269.2L654.6 315.5 654.6 445.0L655.0 409.4 655.0 372.8L655.4 363.9 655.4 393.2L655.8 397.9 655.8 364.9L656.2 347.2 656.2 387.6L656.6 388.3 656.6 300.8L657.0 355.5 657.0 398.3L657.4 382.5 657.4 319.3L657.8 343.7 657.8 425.0L658.2 430.8 658.2 323.4L658.6 343.1 658.6 451.2L659.0 396.2 659.0 295.5L659.4 343.9 659.4 393.9L659.8 395.1 659.8 342.4L660.2 343.5 660.2 392.2L660.6 428.8 660.6 354.2L661.0 352.6 661.0 384.2L661.4 391.1 661.4 351.7L661.8 324.5 661.8 394.2L662.2 424.0 662.2 338.8L662.6 330.4 662.6 416.2L663.0 383.3 663.0 340.1L663.4 331.4 663.4 411.1L663.8 397.9 663.8 354.4L664.2 362.5 664.2 389.6L664.6 405.2 664.6 338.6L665.0 325.0 665.0 415.0L665.4 389.8 665.4 349.4L665.8 362.8 665.8 389.8L666.2 380.5 666.2 355.8L666.6 335.7 666.6 406.3L667.0 395.6 667.0 335.9L667.4 349.0 667.4 400.9L667.8 391.1 667.8 354.5L668.2 347.1 668.2 405.5L668.6 393.3 668.6 355.5L669.0 346.2 669.0 391.8L669.4 407.5 669.4 344.9L669.8 356.4 669.8 386.8L670.2 398.4 670.2 344.1L670.6 366.9 670.6 394.2L671.0 401.9 671.0 347.0L671.4 338.0 671.4 405.2L671.8 387.9 671.8 354.6L672.2 347.2 672.2 388.6L672.6 395.7 672.6 358.4L673.0 362.5 673.0 394.7L673.4 398.1 673.4 353.2L673.8 355.7 673.8 392.1L674.2 378.9 674.2 356.6L674.6 365.8 674.6 410.0L675.0 398.6 675.0 353.2L675.4 370.5 675.4 381.3L675.8 406.9 675.8 355.5L676.2 371.1 676.2 400.3L676.6 386.5 676.6 337.5L677.0 344.4 677.0 387.3L677.4 389.0 677.4 355.9L677.8 339.5 677.8 376.0L678.2 390.9 678.2 357.1L678.6 364.8 678.6 382.5L679.0 380.9 679.0 356.8L679.4 355.1 679.4 401.7L679.8 384.1 679.8 339.3L680.2 371.1 680.2 387.0L680.6 398.6 680.6 361.3L681.0 362.4 681.0 387.4L681.4 383.0 681.4 367.4L681.8 367.0 681.8 410.0L682.2 380.6 682.2 331.2L682.6 355.4 682.6 392.9L683.0 381.6 683.0 348.2L683.4 353.4 683.4 379.6L683.8 392.3 683.8 353.0L684.2 354.8 684.2 376.2L684.6 381.3 684.6 348.4L685.0 361.3 685.0 397.4L685.4 383.3 685.4 363.1L685.8 368.5 685.8 394.4L686.2 381.8 686.2 364.2L686.6 363.6 686.6 377.7L687.0 385.4 687.0 353.6L687.4 348.6 687.4 400.8L687.8 402.5 687.8 337.0L688.2 375.7 688.2 392.0L688.6 387.4 688.6 349.6L689.0 349.1 689.0 390.1L689.4 392.7 689.4 352.7L689.8 350.7 689.8 385.8L690.2 392.0 690.2 363.9L690.6 360.4 690.6 375.8L691.0 414.5 691.0 362.4L691.4 347.3 691.4 386.4L691.8 387.0 691.8 364.0L692.2 364.8 692.2 386.7L692.6 374.1 692.6 362.1L693.0 369.2 693.0 389.1L693.4 392.5 693.4 350.1L693.8 340.4 693.8 405.8L694.2 393.8 694.2 367.7L694.6 364.2 694.6 392.9L695.0 412.5 695.0 348.5L695.4 326.8 695.4 390.3L695.8 385.3 695.8 364.7L696.2 343.5 696.2 388.6L696.6 394.4 696.6 352.9L697.0 360.4 697.0 389.1L697.4 389.1 697.4 347.5L697.8 359.9 697.8 393.9L698.2 376.5 698.2 360.3L698.6 347.9 698.6 398.4L699.0 398.9 699.0 360.8L699.4 361.6 699.4 384.9L699.8 393.3 699.8 359.0L700.2 340.6 700.2 400.6L700.6 399.9 700.6 347.0L701.0 361.0 701.0 387.0L701.4 384.9 701.4 358.8L701.8 352.4 701.8 392.5L702.2 382.2 702.2 360.9L702.6 366.8 702.6 394.1L703.0 450.5 703.0 345.9L703.4 348.0 703.4 406.2L703.8 401.7 703.8 339.5L704.2 354.4 704.2 396.3L704.6 394.8 704.6 348.9L705.0 365.7 705.0 403.4L705.4 405.0 705.4 349.9L705.8 328.6 705.8 411.2L706.2 423.4 706.2 336.0L706.6 347.2 706.6 412.3L707.0 428.6 707.0 356.5L707.4 368.6 707.4 423.2L707.8 396.8 707.8 353.9L708.2 352.5 708.2 438.8L708.6 400.5 708.6 363.5L709.0 366.4 709.0 383.6L709.4 373.6 709.4 309.2L709.8 354.2 709.8 392.5L710.2 395.1 710.2 368.9L710.6 343.3 710.6 409.1L711.0 437.5 711.0 338.3L711.4 331.2 711.4 410.6L711.8 428.8 711.8 309.2L712.2 311.3 712.2 436.3L712.6 440.2 712.6 345.3L713.0 353.6 713.0 443.8L713.4 442.1 713.4 315.4L713.8 345.4 713.8 444.2L714.2 400.9 714.2 334.7L714.6 352.0 714.6 397.0L715.0 426.8 715.0 280.8L715.4 363.4 715.4 402.1L715.8 401.0 715.8 367.0L716.2 348.8 716.2 425.3L716.6 440.0 716.6 305.7L717.0 289.8 717.0 411.7L717.4 412.0 717.4 340.3L717.8 301.4 717.8 381.2L718.2 402.5 718.2 331.5L718.6 292.1 718.6 407.6L719.0 421.5 719.0 325.6L719.4 356.0 719.4 394.6L719.8 404.2 719.8 348.1L720.2 362.8 720.2 477.5L720.6 434.8 720.6 250.0L721.0 328.5 721.0 405.3L721.4 573.0 721.4 355.4L721.8 119.1 721.8 447.9L722.2 442.8 722.2 136.9L722.6 336.4 722.6 376.4L723.0 567.5 723.0 315.2L723.4 220.0 723.4 424.0L723.8 442.9 723.8 259.5L724.2 273.7 724.2 458.0L724.6 489.5 724.6 265.3L725.0 335.3 725.0 469.7L725.4 465.1 725.4 301.2L725.8 258.4 725.8 426.6L726.2 406.5 726.2 218.8L726.6 305.7 726.6 467.5L727.0 394.2 727.0 335.3L727.4 335.2 727.4 389.4L727.8 433.1 727.8 347.0L728.2 288.8 728.2 379.8L728.6 412.4 728.6 346.4L729.0 342.7 729.0 438.8L729.4 433.9 729.4 322.6L729.8 308.8 729.8 422.9L730.2 441.0 730.2 307.2L730.6 316.3 730.6 428.3L731.0 412.7 731.0 340.2L731.4 312.9 731.4 402.6L731.8 389.3 731.8 338.3L732.2 339.9 732.2 416.1L732.6 430.0 732.6 314.1L733.0 354.7 733.0 423.8L733.4 400.5 733.4 324.5L733.8 349.5 733.8 407.2L734.2 396.3 734.2 322.8L734.6 359.4 734.6 381.4L735.0 406.1 735.0 360.0L735.4 355.3 735.4 408.5L735.8 405.0 735.8 358.5L736.2 340.1 736.2 442.5L736.6 380.6 736.6 342.4L737.0 364.2 737.0 393.3L737.4 388.2 737.4 346.8L737.8 359.3 737.8 383.6L738.2 389.8 738.2 363.0L738.6 365.2 738.6 389.7L739.0 385.5 739.0 362.0L739.4 277.5 739.4 459.2L739.8 392.6 739.8 353.6L740.2 353.9 740.2 381.6L740.6 382.0 740.6 326.7L741.0 335.7 741.0 396.4L741.4 412.4 741.4 329.0L741.8 305.0 741.8 437.5L742.2 397.9 742.2 350.1L742.6 319.9 742.6 408.8L743.0 394.8 743.0 308.0L743.4 319.3 743.4 412.2L743.8 393.2 743.8 325.9L744.2 338.2 744.2 412.7L744.6 409.3 744.6 334.2L745.0 354.1 745.0 390.5L745.4 385.6 745.4 326.0L745.8 355.4 745.8 396.1L746.2 375.7 746.2 339.3L746.6 359.2 746.6 388.0L747.0 392.2 747.0 348.3L747.4 360.1 747.4 418.8L747.8 394.3 747.8 333.2L748.2 344.9 748.2 410.4L748.6 403.1 748.6 347.1L749.0 343.3 749.0 405.8L749.4 390.5 749.4 360.4L749.8 353.3 749.8 376.8L750.2 377.1 750.2 351.2L750.6 345.8 750.6 402.9L751.0 423.8 751.0 348.2L751.4 343.6 751.4 401.0L751.8 407.5 751.8 337.6L752.2 332.9 752.2 390.7L752.6 376.6 752.6 342.3L753.0 322.7 753.0 521.2L753.4 404.7 753.4 269.2L753.8 338.4 753.8 440.4L754.2 428.8 754.2 343.4L754.6 327.7 754.6 379.3L755.0 413.2 755.0 297.5L755.4 325.1 755.4 433.0L755.8 455.0 755.8 326.6L756.2 355.5 756.2 379.7L756.6 385.7 756.6 289.2L757.0 341.0 757.0 401.0L757.4 412.3 757.4 330.3L757.8 368.9 757.8 416.0L758.2 398.9 758.2 361.5L758.6 347.9 758.6 392.9L759.0 389.6 759.0 359.0L759.4 358.3 759.4 390.5L759.8 396.5 759.8 362.9L760.2 356.6 760.2 386.5L760.6 386.6 760.6 347.4L761.0 340.1 761.0 367.5L761.4 377.2 761.4 352.6L761.8 361.3 761.8 387.3L762.2 428.0 762.2 344.0L762.6 321.8 762.6 385.7L763.0 395.5 763.0 353.3L763.4 333.6 763.4 410.1L763.8 407.0 763.8 352.1L764.2 358.5 764.2 391.9L764.6 386.8 764.6 345.1L765.0 359.7 765.0 389.3L765.4 406.4 765.4 350.5L765.8 352.1 765.8 397.0L766.2 387.0 766.2 355.2L766.6 346.1 766.6 382.5L767.0 425.5 767.0 351.6L767.4 358.6 767.4 392.4L767.8 390.6 767.8 341.3L768.2 344.8 768.2 389.8L768.6 383.3 768.6 326.8L769.0 342.6 769.0 386.8L769.4 396.5 769.4 345.5L769.8 341.4 769.8 392.7L770.2 406.3 770.2 344.5L770.6 365.1 770.6 393.4L771.0 383.2 771.0 355.9L771.4 355.8 771.4 391.9L771.8 397.1 771.8 355.8L772.2 356.2 772.2 424.5L772.6 408.9 772.6 334.5L773.0 362.1 773.0 385.8L773.4 388.6 773.4 341.6L773.8 349.1 773.8 384.2L774.2 409.5 774.2 355.6L774.6 364.8 774.6 429.2L775.0 389.2 775.0 363.7L775.4 367.7 775.4 379.8L775.8 395.0 775.8 350.9L776.2 340.2 776.2 389.3L776.6 372.9 776.6 352.0L777.0 364.0 777.0 382.1L777.4 380.7 777.4 325.2L777.8 339.8 777.8 389.9L778.2 380.4 778.2 337.2L778.6 361.6 778.6 387.3L779.0 387.4 779.0 355.0L779.4 349.2 779.4 411.4L779.8 411.1 779.8 332.2L780.2 355.0 780.2 394.4L780.6 385.5 780.6 357.3L781.0 364.9 781.0 425.0L781.4 379.0 781.4 367.1L781.8 357.5 781.8 379.9L782.2 392.7 782.2 355.4L782.6 354.6 782.6 397.4L783.0 390.8 783.0 358.0L783.4 359.8 783.4 379.1L783.8 387.9 783.8 355.4L784.2 365.0 784.2 392.6L784.6 392.5 784.6 365.2L785.0 348.3 785.0 392.9L785.4 379.7 785.4 362.9L785.8 342.5 785.8 400.3L786.2 420.0 786.2 363.2L786.6 363.2 786.6 395.2L787.0 383.3 787.0 354.9L787.4 354.4 787.4 391.7L787.8 376.2 787.8 352.6L788.2 353.1 788.2 396.9L788.6 405.3 788.6 370.5L789.0 355.2 789.0 387.0L789.4 371.3 789.4 343.2L789.8 354.0 789.8 406.7L790.2 383.2 790.2 366.9L790.6 320.5 790.6 385.6L791.0 384.6 791.0 361.3L791.4 356.9 791.4 413.8L791.8 401.3 791.8 344.7L792.2 353.7 792.2 372.7L792.6 394.8 792.6 357.8L793.0 357.7 793.0 396.0L793.4 389.1 793.4 352.6L793.8 348.2 793.8 391.3L794.2 386.4 794.2 336.2L794.6 356.0 794.6 401.7L795.0 380.6 795.0 359.0L795.4 363.3 795.4 386.8L795.8 377.8 795.8 366.2L796.2 358.6 796.2 386.2L796.6 393.0 796.6 354.1L797.0 354.3 797.0 392.1L797.4 393.2 797.4 344.9L797.8 358.1 797.8 390.6L798.2 461.2 798.2 358.7L798.6 287.5 798.6 381.5L799.0 392.6 799.0 356.3L799.4 333.0 799.4 394.8L799.8 399.2 799.8 339.0L800.2 351.5 800.2 386.5L800.6 407.7 800.6 346.7L801.0 345.8 801.0 396.2L801.4 383.2 801.4 366.4L801.8 341.6 801.8 396.7L802.2 410.7 802.2 342.2L802.6 350.6 802.6 429.5L803.0 379.8 803.0 355.8L803.4 341.5 803.4 382.9L803.8 388.2 803.8 351.8L804.2 321.8 804.2 385.6L804.6 386.1 804.6 350.0L805.0 356.5 805.0 408.8L805.4 385.8 805.4 361.4L805.8 369.0 805.8 390.2L806.2 391.4 806.2 367.0L806.6 366.7 806.6 391.1L807.0 382.1 807.0 362.3L807.4 353.3 807.4 390.6L807.8 453.8 807.8 354.1L808.2 352.6 808.2 398.4L808.6 387.4 808.6 344.6L809.0 343.4 809.0 393.8L809.4 399.7 809.4 362.7L809.8 362.5 809.8 381.8L810.2 428.0 810.2 370.0L810.6 365.5 810.6 388.4L811.0 392.2 811.0 354.3L811.4 343.4 811.4 405.3L811.8 383.6 811.8 324.8L812.2 350.5 812.2 378.6L812.6 382.2 812.6 365.9L813.0 357.0 813.0 381.0L813.4 391.4 813.4 346.5L813.8 358.2 813.8 385.6L814.2 395.8 814.2 356.7L814.6 362.1 814.6 381.2L815.0 400.8 815.0 342.8L815.4 362.9 815.4 397.3L815.8 386.7 815.8 366.9L816.2 361.7 816.2 380.7L816.6 386.8 816.6 363.2L817.0 363.9 817.0 379.0L817.4 382.9 817.4 357.9L817.8 362.3 817.8 391.0L818.2 413.8 818.2 357.4L818.6 366.4 818.6 389.5L819.0 385.0 819.0 346.8L819.4 352.1 819.4 393.0L819.8 385.9 819.8 364.2L820.2 346.7 820.2 390.7L820.6 389.8 820.6 347.5L821.0 361.5 821.0 381.2L821.4 388.0 821.4 368.1L821.8 342.6 821.8 394.0L822.2 390.6 822.2 353.6L822.6 357.9 822.6 397.6L823.0 393.1 823.0 358.0L823.4 362.5 823.4 394.4L823.8 395.8 823.8 352.1L824.2 343.4 824.2 397.3L824.6 403.7 824.6 346.6L825.0 348.3 825.0 397.5L825.4 381.9 825.4 341.7L825.8 338.2 825.8 464.5L826.2 393.6 826.2 363.9L826.6 365.0 826.6 400.3L827.0 388.4 827.0 363.8L827.4 314.2 827.4 392.3L827.8 397.1 827.8 327.3L828.2 346.9 828.2 395.2L828.6 428.8 828.6 358.3L829.0 362.6 829.0 390.4L829.4 386.1 829.4 339.4L829.8 363.5 829.8 396.2L830.2 382.0 830.2 359.0L830.6 353.0 830.6 389.2L831.0 384.3 831.0 356.0L831.4 357.3 831.4 405.9L831.8 408.5 831.8 357.4L832.2 331.4 832.2 388.9L832.6 390.0 832.6 366.1L833.0 354.5 833.0 397.1L833.4 389.7 833.4 360.5L833.8 365.3 833.8 446.2L834.2 374.7 834.2 326.0L834.6 360.0 834.6 380.9L835.0 386.6 835.0 358.1L835.4 358.8 835.4 445.0L835.8 387.4 835.8 264.0L836.2 364.9 836.2 388.4L836.6 392.9 836.6 342.2L837.0 361.3 837.0 387.1L837.4 410.3 837.4 341.3L837.8 352.2 837.8 401.7L838.2 402.0 838.2 334.2L838.6 362.0 838.6 392.7L839.0 403.7 839.0 362.2L839.4 352.1 839.4 396.4L839.8 412.1 839.8 350.2L840.2 364.7 840.2 427.5L840.6 384.6 840.6 326.0L841.0 360.5 841.0 376.0L841.4 402.2 841.4 342.4L841.8 355.9 841.8 398.4L842.2 392.6 842.2 355.7L842.6 348.0 842.6 439.5L843.0 379.3 843.0 342.4L843.4 355.3 843.4 391.0L843.8 386.3 843.8 327.2L844.2 356.1 844.2 416.1L844.6 408.2 844.6 359.3L845.0 356.9 845.0 387.0L845.4 384.8 845.4 362.1L845.8 360.9 845.8 406.6L846.2 390.3 846.2 344.7L846.6 360.7 846.6 390.6L847.0 411.2 847.0 335.0L847.4 361.7 847.4 394.2L847.8 417.8 847.8 330.0L848.2 332.1 848.2 419.6L848.6 471.2 848.6 272.5L849.0 331.6 849.0 424.3L849.4 432.4 849.4 290.6L849.8 168.4 849.8 637.5L850.2 467.9 850.2 218.7L850.6 309.9 850.6 404.6L851.0 416.2 851.0 341.8L851.4 316.8 851.4 429.1L851.8 401.7 851.8 347.1L852.2 304.2 852.2 406.7L852.6 503.0 852.6 352.0L853.0 335.4 853.0 392.7L853.4 429.0 853.4 330.7L853.8 356.5 853.8 398.1L854.2 391.1 854.2 359.4L854.6 356.2 854.6 403.5L855.0 404.0 855.0 349.4L855.4 341.7 855.4 390.2L855.8 451.8 855.8 346.4L856.2 355.9 856.2 412.0L856.6 378.4 856.6 324.5L857.0 330.6 857.0 389.4L857.4 402.1 857.4 346.4L857.8 331.3 857.8 414.1L858.2 412.2 858.2 327.3L858.6 361.0 858.6 407.8L859.0 385.5 859.0 346.3L859.4 339.2 859.4 430.8L859.8 390.4 859.8 342.2L860.2 321.2 860.2 382.4L860.6 389.4 860.6 345.0L861.0 343.4 861.0 400.7L861.4 397.5 861.4 359.2L861.8 362.6 861.8 383.4L862.2 405.4 862.2 368.4L862.6 342.4 862.6 421.2L863.0 408.7 863.0 361.8L863.4 334.8 863.4 388.1L863.8 405.6 863.8 341.5L864.2 359.2 864.2 402.9L864.6 414.7 864.6 342.8L865.0 337.2 865.0 390.1L865.4 395.6 865.4 355.9L865.8 347.5 865.8 395.4L866.2 418.8 866.2 348.1L866.6 358.6 866.6 395.9L867.0 396.0 867.0 358.8L867.4 357.1 867.4 397.1L867.8 410.3 867.8 346.3L868.2 358.3 868.2 393.4L868.6 424.2 868.6 356.9L869.0 356.2 869.0 393.6L869.4 374.4 869.4 327.5L869.8 347.1 869.8 402.9L870.2 379.5 870.2 360.2" fill="none" stroke="#000" stroke-width="1.33" stroke-linejoin="round" stroke-linecap="round"/>
<rect x="146.5" y="92.2" width="751.0" height="739.1" fill="none" stroke="#000" stroke-width="1.3"/>
<path d="M174.00 831.3H847.50M174.00 831.3v12.5M286.25 831.3v12.5M398.50 831.3v12.5M510.75 831.3v12.5M623.00 831.3v12.5M735.25 831.3v12.5M847.50 831.3v12.5M146.5 815.70V153.00M146.5 815.70h-12.5M146.5 705.25h-12.5M146.5 594.80h-12.5M146.5 484.35h-12.5M146.5 373.90h-12.5M146.5 263.45h-12.5M146.5 153.00h-12.5" fill="none" stroke="#000" stroke-width="1.3"/>
<text x="174.00" y="874.8" text-anchor="middle" font-size="20.0">1960</text>
<text x="286.25" y="874.8" text-anchor="middle" font-size="20.0">1970</text>
<text x="398.50" y="874.8" text-anchor="middle" font-size="20.0">1980</text>
<text x="510.75" y="874.8" text-anchor="middle" font-size="20.0">1990</text>
<text x="623.00" y="874.8" text-anchor="middle" font-size="20.0">2000</text>
<text x="735.25" y="874.8" text-anchor="middle" font-size="20.0">2010</text>
<text x="847.50" y="874.8" text-anchor="middle" font-size="20.0">2020</text>
<text transform="translate(117.6,816.40) rotate(-90)" text-anchor="middle" font-size="20.0">-20</text>
<text transform="translate(117.6,705.95) rotate(-90)" text-anchor="middle" font-size="20.0">-15</text>
<text transform="translate(117.6,595.50) rotate(-90)" text-anchor="middle" font-size="20.0">-10</text>
<text transform="translate(117.6,485.05) rotate(-90)" text-anchor="middle" font-size="20.0">-5</text>
<text transform="translate(117.6,374.00) rotate(-90)" text-anchor="middle" font-size="20.0">0</text>
<text transform="translate(117.6,263.55) rotate(-90)" text-anchor="middle" font-size="20.0">5</text>
<text transform="translate(117.6,153.10) rotate(-90)" text-anchor="middle" font-size="20.0">10</text>
<text x="522.00" y="923" text-anchor="middle" font-size="20.0">Time (days)</text>
<text transform="translate(69.9,461.75) rotate(-90)" text-anchor="middle" font-size="20.0">Daily return (%)</text>
<text x="522.00" y="52.1" text-anchor="middle" font-size="24.0" font-weight="bold">Daily returns of SP500</text>
</g>
<g transform="translate(900.1,0)">
<path d="M174.2 365.2 174.2 341.9L174.6 315.9 174.6 359.3L175.0 375.6 175.0 321.7L175.4 339.4 175.4 380.8L175.8 365.1 175.8 325.1L176.2 343.4 176.2 359.8L176.6 354.0 176.6 327.5L177.0 334.4 177.0 355.2L177.4 359.1 177.4 337.9L177.8 330.1 177.8 372.6L178.2 357.5 178.2 338.1L178.6 333.6 178.6 360.4L179.0 374.8 179.0 313.9L179.4 336.5 179.4 380.4L179.8 360.2 179.8 332.8L180.2 333.3 180.2 362.0L180.6 361.7 180.6 334.3L181.0 329.8 181.0 380.5L181.4 362.6 181.4 324.8L181.8 337.4 181.8 360.0L182.2 404.4 182.2 340.6L182.6 303.7 182.6 363.1L183.0 363.1 183.0 332.2L183.4 336.0 183.4 361.1L183.8 360.1 183.8 334.1L184.2 334.4 184.2 362.7L184.6 367.7 184.6 341.3L185.0 337.3 185.0 353.2L185.4 382.5 185.4 330.9L185.8 309.6 185.8 384.2L186.2 384.2 186.2 316.0L186.6 328.8 186.6 375.7L187.0 371.0 187.0 337.0L187.4 342.2 187.4 400.7L187.8 364.4 187.8 332.0L188.2 333.9 188.2 349.9L188.6 359.6 188.6 334.2L189.0 337.1 189.0 388.1L189.4 358.4 189.4 337.1L189.8 332.9 189.8 369.5L190.2 354.3 190.2 326.0L190.6 332.7 190.6 375.2L191.0 358.1 191.0 329.1L191.4 337.2 191.4 362.5L191.8 364.6 191.8 324.5L192.2 342.7 192.2 358.8L192.6 360.0 192.6 303.5L193.0 312.1 193.0 376.7L193.4 381.3 193.4 349.5L193.8 334.7 193.8 368.4L194.2 366.7 194.2 303.5L194.6 266.8 194.6 403.4L195.0 384.7 195.0 328.7L195.4 321.3 195.4 373.9L195.8 358.2 195.8 318.6L196.2 326.8 196.2 372.9L196.6 368.7 196.6 340.7L197.0 309.9 197.0 377.8L197.4 357.8 197.4 314.4L197.8 329.9 197.8 354.4L198.2 358.5 198.2 332.3L198.6 330.7 198.6 359.3L199.0 363.4 199.0 323.4L199.4 335.9 199.4 355.7L199.8 358.7 199.8 343.3L200.2 319.7 200.2 373.3L200.6 362.4 200.6 329.2L201.0 331.3 201.0 367.2L201.4 510.9 201.4 233.8L201.8 309.0 201.8 377.5L202.2 355.8 202.2 276.6L202.6 328.3 202.6 360.5L203.0 367.2 203.0 339.5L203.4 325.6 203.4 365.7L203.8 383.3 203.8 306.1L204.2 331.0 204.2 353.7L204.6 349.7 204.6 331.2L205.0 328.8 205.0 360.2L205.4 405.4 205.4 281.2L205.8 322.7 205.8 359.0L206.2 377.9 206.2 312.3L206.6 330.8 206.6 364.4L207.0 359.8 207.0 331.5L207.4 342.1 207.4 354.1L207.8 366.8 207.8 337.3L208.2 330.9 208.2 366.0L208.6 362.7 208.6 337.3L209.0 322.4 209.0 358.1L209.4 372.6 209.4 337.2L209.8 335.5 209.8 368.7L210.2 366.1 210.2 342.2L210.6 344.9 210.6 356.7L211.0 354.0 211.0 343.3L211.4 342.6 211.4 355.2L211.8 362.8 211.8 336.5L212.2 333.1 212.2 362.9L212.6 355.5 212.6 340.1L213.0 345.4 213.0 352.5L213.4 357.7 213.4 346.7L213.8 342.2 213.8 362.2L214.2 356.9 214.2 339.9L214.6 325.8 214.6 363.9L215.0 363.7 215.0 335.2L215.4 332.8 215.4 357.9L215.8 360.2 215.8 337.3L216.2 344.8 216.2 353.3L216.6 361.7 216.6 347.7L217.0 341.3 217.0 356.6L217.4 361.8 217.4 340.0L217.8 263.3 217.8 352.1L218.2 410.5 218.2 340.1L218.6 331.7 218.6 357.4L219.0 361.8 219.0 333.8L219.4 328.4 219.4 359.2L219.8 354.9 219.8 341.4L220.2 332.3 220.2 368.2L220.6 357.0 220.6 328.7L221.0 329.6 221.0 360.6L221.4 356.0 221.4 341.0L221.8 335.6 221.8 368.2L222.2 363.8 222.2 325.9L222.6 326.4 222.6 363.5L223.0 356.8 223.0 328.5L223.4 339.5 223.4 353.1L223.8 357.8 223.8 342.8L224.2 330.0 224.2 357.4L224.6 355.3 224.6 338.8L225.0 340.0 225.0 354.7L225.4 374.8 225.4 340.6L225.8 330.5 225.8 354.9L226.2 360.5 226.2 335.6L226.6 339.5 226.6 355.4L227.0 351.3 227.0 341.5L227.4 340.5 227.4 362.4L227.8 355.7 227.8 336.3L228.2 333.6 228.2 354.2L228.6 359.6 228.6 345.8L229.0 333.9 229.0 356.2L229.4 352.6 229.4 341.6L229.8 340.4 229.8 360.0L230.2 356.6 230.2 316.1L230.6 326.7 230.6 363.6L231.0 358.8 231.0 344.6L231.4 335.9 231.4 358.8L231.8 368.5 231.8 331.2L232.2 344.4 232.2 354.6L232.6 352.2 232.6 345.3L233.0 337.8 233.0 355.3L233.4 369.3 233.4 336.0L233.8 336.3 233.8 361.8L234.2 354.8 234.2 342.9L234.6 341.1 234.6 352.6L235.0 353.0 235.0 337.6L235.4 336.4 235.4 386.2L235.8 355.2 235.8 304.2L236.2 344.9 236.2 365.2L236.6 363.9 236.6 341.1L237.0 336.6 237.0 357.6L237.4 352.9 237.4 342.5L237.8 339.8 237.8 355.9L238.2 353.1 238.2 337.5L238.6 337.8 238.6 363.7L239.0 363.2 239.0 340.3L239.4 325.5 239.4 356.3L239.8 361.9 239.8 332.1L240.2 335.3 240.2 352.8L240.6 352.6 240.6 336.3L241.0 339.8 241.0 358.2L241.4 353.9 241.4 325.9L241.8 326.9 241.8 353.8L242.2 357.8 242.2 339.6L242.6 333.2 242.6 356.2L243.0 356.4 243.0 338.1L243.4 331.4 243.4 363.7L243.8 368.6 243.8 341.0L244.2 334.7 244.2 353.2L244.6 362.0 244.6 322.2L245.0 324.3 245.0 362.8L245.4 384.5 245.4 308.2L245.8 331.4 245.8 369.1L246.2 360.3 246.2 339.3L246.6 325.0 246.6 377.5L247.0 369.0 247.0 321.0L247.4 331.8 247.4 376.0L247.8 361.1 247.8 330.5L248.2 335.1 248.2 357.0L248.6 359.9 248.6 335.7L249.0 325.9 249.0 401.0L249.4 364.9 249.4 342.1L249.8 288.2 249.8 351.5L250.2 359.5 250.2 335.0L250.6 341.0 250.6 394.2L251.0 359.3 251.0 333.3L251.4 342.9 251.4 355.1L251.8 354.3 251.8 334.8L252.2 288.2 252.2 352.2L252.6 358.8 252.6 343.2L253.0 338.7 253.0 354.2L253.4 350.1 253.4 340.2L253.8 332.9 253.8 370.7L254.2 371.4 254.2 338.3L254.6 320.6 254.6 363.1L255.0 364.5 255.0 334.3L255.4 334.3 255.4 369.1L255.8 359.0 255.8 339.6L256.2 334.8 256.2 355.8L256.6 360.2 256.6 330.4L257.0 337.9 257.0 367.5L257.4 380.8 257.4 307.7L257.8 340.0 257.8 355.3L258.2 358.3 258.2 322.8L258.6 332.8 258.6 373.4L259.0 367.0 259.0 337.7L259.4 322.4 259.4 364.6L259.8 360.7 259.8 321.5L260.2 332.9 260.2 360.4L260.6 376.1 260.6 332.1L261.0 339.0 261.0 362.2L261.4 367.9 261.4 345.8L261.8 343.0 261.8 355.0L262.2 354.3 262.2 337.9L262.6 336.4 262.6 357.3L263.0 360.8 263.0 335.0L263.4 330.7 263.4 359.3L263.8 362.7 263.8 306.3L264.2 332.3 264.2 374.0L264.6 373.1 264.6 340.6L265.0 335.3 265.0 360.3L265.4 359.3 265.4 335.2L265.8 342.5 265.8 352.3L266.2 388.8 266.2 347.0L266.6 295.6 266.6 357.4L267.0 353.4 267.0 346.0L267.4 345.2 267.4 358.1L267.8 356.8 267.8 332.0L268.2 343.4 268.2 357.6L268.6 361.3 268.6 335.3L269.0 338.4 269.0 374.9L269.4 366.3 269.4 318.8L269.8 327.2 269.8 385.7L270.2 359.0 270.2 342.2L270.6 340.2 270.6 359.7L271.0 362.5 271.0 333.8L271.4 340.6 271.4 369.9L271.8 358.7 271.8 339.8L272.2 335.0 272.2 360.3L272.6 360.9 272.6 342.7L273.0 340.2 273.0 355.7L273.4 359.9 273.4 340.4L273.8 333.6 273.8 371.8L274.2 367.4 274.2 326.9L274.6 329.1 274.6 371.2L275.0 373.6 275.0 311.9L275.4 331.6 275.4 377.8L275.8 377.4 275.8 335.5L276.2 328.6 276.2 375.4L276.6 375.6 276.6 320.4L277.0 335.7 277.0 372.5L277.4 372.2 277.4 342.1L277.8 337.4 277.8 357.5L278.2 358.6 278.2 331.0L278.6 344.5 278.6 356.4L279.0 366.1 279.0 339.8L279.4 327.4 279.4 357.7L279.8 366.6 279.8 342.9L280.2 341.4 280.2 366.2L280.6 362.7 280.6 333.8L281.0 333.5 281.0 367.3L281.4 388.8 281.4 304.9L281.8 335.6 281.8 375.7L282.2 381.0 282.2 314.7L282.6 330.9 282.6 360.7L283.0 367.9 283.0 318.6L283.4 330.0 283.4 363.6L283.8 363.0 283.8 324.3L284.2 318.6 284.2 383.6L284.6 363.3 284.6 331.2L285.0 317.9 285.0 375.6L285.4 361.2 285.4 314.5L285.8 322.6 285.8 354.5L286.2 371.6 286.2 318.4L286.6 322.3 286.6 366.4L287.0 477.0 287.0 215.4L287.4 338.4 287.4 366.7L287.8 361.0 287.8 332.5L288.2 336.8 288.2 358.5L288.6 381.0 288.6 340.3L289.0 326.4 289.0 381.5L289.4 383.4 289.4 325.1L289.8 342.1 289.8 367.8L290.2 370.2 290.2 341.6L290.6 334.0 290.6 407.1L291.0 380.3 291.0 245.1L291.4 330.3 291.4 370.8L291.8 384.7 291.8 304.5L292.2 296.0 292.2 401.5L292.6 382.1 292.6 316.9L293.0 322.7 293.0 372.7L293.4 369.7 293.4 312.4L293.8 327.0 293.8 373.7L294.2 369.7 294.2 312.4L294.6 326.2 294.6 365.3L295.0 365.4 295.0 328.5L295.4 331.0 295.4 364.7L295.8 376.0 295.8 334.6L296.2 340.5 296.2 368.8L296.6 375.4 296.6 336.1L297.0 339.8 297.0 361.0L297.4 358.4 297.4 332.6L297.8 332.5 297.8 359.8L298.2 352.7 298.2 347.5L298.6 342.5 298.6 357.2L299.0 356.9 299.0 342.1L299.4 344.6 299.4 350.0L299.8 358.5 299.8 346.5L300.2 331.7 300.2 362.2L300.6 378.8 300.6 321.2L301.0 333.4 301.0 373.4L301.4 372.8 301.4 335.7L301.8 337.5 301.8 352.7L302.2 367.6 302.2 336.9L302.6 339.3 302.6 382.0L303.0 355.5 303.0 336.3L303.4 341.4 303.4 368.3L303.8 365.5 303.8 343.4L304.2 338.1 304.2 358.9L304.6 480.3 304.6 201.2L305.0 320.5 305.0 360.1L305.4 355.1 305.4 327.5L305.8 334.6 305.8 365.1L306.2 358.7 306.2 327.5L306.6 320.6 306.6 373.1L307.0 358.5 307.0 338.1L307.4 334.7 307.4 357.6L307.8 359.7 307.8 327.4L308.2 341.0 308.2 374.3L308.6 359.4 308.6 309.6L309.0 338.4 309.0 362.1L309.4 358.4 309.4 343.6L309.8 333.4 309.8 361.9L310.2 352.6 310.2 326.1L310.6 326.5 310.6 362.2L311.0 362.8 311.0 332.5L311.4 321.9 311.4 367.7L311.8 374.7 311.8 329.6L312.2 331.7 312.2 356.5L312.6 365.0 312.6 340.0L313.0 336.6 313.0 376.0L313.4 355.1 313.4 325.4L313.8 328.3 313.8 357.8L314.2 371.3 314.2 325.6L314.6 338.3 314.6 359.2L315.0 373.1 315.0 345.5L315.4 336.0 315.4 361.4L315.8 355.2 315.8 342.6L316.2 338.8 316.2 353.4L316.6 355.1 316.6 340.1L317.0 338.8 317.0 354.7L317.4 359.2 317.4 335.2L317.8 323.6 317.8 363.4L318.2 364.7 318.2 340.4L318.6 325.3 318.6 358.2L319.0 358.2 319.0 339.4L319.4 336.4 319.4 360.3L319.8 372.4 319.8 289.8L320.2 324.0 320.2 360.7L320.6 365.6 320.6 327.5L321.0 329.4 321.0 363.9L321.4 365.3 321.4 331.7L321.8 334.8 321.8 376.6L322.2 370.9 322.2 322.0L322.6 321.2 322.6 373.9L323.0 357.1 323.0 335.2L323.4 332.7 323.4 372.1L323.8 369.5 323.8 327.2L324.2 287.5 324.2 393.7L324.6 369.5 324.6 326.4L325.0 329.0 325.0 381.6L325.4 360.9 325.4 337.5L325.8 318.9 325.8 370.5L326.2 392.7 326.2 322.5L326.6 309.3 326.6 376.3L327.0 401.5 327.0 301.1L327.4 317.2 327.4 388.8L327.8 356.7 327.8 334.5L328.2 315.2 328.2 374.7L328.6 480.6 328.6 226.6L329.0 313.2 329.0 372.2L329.4 363.9 329.4 322.9L329.8 305.0 329.8 367.2L330.2 369.1 330.2 329.7L330.6 339.4 330.6 413.7L331.0 351.7 331.0 284.0L331.4 316.7 331.4 396.7L331.8 373.8 331.8 328.6L332.2 322.9 332.2 408.1L332.6 375.9 332.6 330.5L333.0 325.7 333.0 373.4L333.4 386.5 333.4 323.4L333.8 324.6 333.8 363.0L334.2 358.2 334.2 309.5L334.6 294.9 334.6 384.0L335.0 386.5 335.0 327.3L335.4 307.8 335.4 397.6L335.8 359.8 335.8 319.8L336.2 285.9 336.2 387.5L336.6 414.5 336.6 335.8L337.0 264.5 337.0 419.3L337.4 405.7 337.4 330.0L337.8 325.2 337.8 366.4L338.2 386.9 338.2 303.3L338.6 294.3 338.6 405.1L339.0 368.5 339.0 277.7L339.4 282.6 339.4 367.6L339.8 399.0 339.8 253.5L340.2 304.3 340.2 398.9L340.6 412.3 340.6 299.5L341.0 327.2 341.0 427.3L341.4 376.7 341.4 303.1L341.8 280.0 341.8 375.7L342.2 387.4 342.2 277.7L342.6 329.2 342.6 370.3L343.0 368.1 343.0 322.0L343.4 206.5 343.4 451.4L343.8 367.8 343.8 309.8L344.2 320.1 344.2 365.8L344.6 391.3 344.6 327.4L345.0 316.5 345.0 399.0L345.4 372.6 345.4 300.7L345.8 311.3 345.8 385.6L346.2 386.0 346.2 317.7L346.6 326.6 346.6 368.5L347.0 387.2 347.0 315.9L347.4 311.7 347.4 378.2L347.8 368.3 347.8 306.4L348.2 325.3 348.2 370.8L348.6 356.9 348.6 339.9L349.0 325.6 349.0 361.9L349.4 391.7 349.4 330.9L349.8 321.1 349.8 383.2L350.2 388.3 350.2 318.8L350.6 311.5 350.6 365.7L351.0 389.9 351.0 295.1L351.4 294.6 351.4 373.6L351.8 371.2 351.8 336.5L352.2 334.3 352.2 363.1L352.6 390.0 352.6 328.1L353.0 339.2 353.0 367.3L353.4 370.4 353.4 332.6L353.8 324.5 353.8 379.1L354.2 356.2 354.2 339.0L354.6 346.2 354.6 356.3L355.0 356.0 355.0 337.9L355.4 334.7 355.4 352.0L355.8 365.2 355.8 321.8L356.2 314.1 356.2 381.4L356.6 366.0 356.6 338.9L357.0 328.6 357.0 369.9L357.4 364.4 357.4 332.0L357.8 338.9 357.8 371.4L358.2 387.7 358.2 306.3L358.6 324.0 358.6 371.8L359.0 382.5 359.0 308.7L359.4 236.5 359.4 378.4L359.8 365.9 359.8 332.0L360.2 329.1 360.2 373.0L360.6 365.9 360.6 342.1L361.0 348.2 361.0 382.3L361.4 384.1 361.4 314.6L361.8 328.6 361.8 377.4L362.2 369.3 362.2 317.2L362.6 329.8 362.6 372.0L363.0 355.2 363.0 343.7L363.4 332.6 363.4 379.1L363.8 359.1 363.8 341.9L364.2 338.3 364.2 362.4L364.6 354.9 364.6 335.8L365.0 340.1 365.0 357.2L365.4 361.7 365.4 340.0L365.8 336.7 365.8 360.4L366.2 380.7 366.2 335.3L366.6 341.0 366.6 372.6L367.0 358.7 367.0 335.3L367.4 325.9 367.4 365.0L367.8 355.1 367.8 335.3L368.2 344.6 368.2 361.6L368.6 374.2 368.6 324.7L369.0 322.8 369.0 357.9L369.4 363.6 369.4 340.5L369.8 331.7 369.8 352.5L370.2 362.7 370.2 336.8L370.6 338.7 370.6 352.9L371.0 383.7 371.0 332.1L371.4 335.3 371.4 364.7L371.8 370.3 371.8 332.0L372.2 315.8 372.2 374.7L372.6 356.0 372.6 332.2L373.0 342.5 373.0 368.0L373.4 359.4 373.4 340.1L373.8 338.5 373.8 365.2L374.2 384.1 374.2 310.0L374.6 334.8 374.6 353.3L375.0 361.8 375.0 335.6L375.4 317.4 375.4 380.8L375.8 363.9 375.8 317.2L376.2 335.6 376.2 377.7L376.6 363.1 376.6 339.0L377.0 327.0 377.0 354.2L377.4 359.6 377.4 338.6L377.8 337.7 377.8 372.2L378.2 367.5 378.2 327.1L378.6 335.1 378.6 383.1L379.0 368.2 379.0 320.9L379.4 303.0 379.4 388.8L379.8 363.3 379.8 331.4L380.2 339.1 380.2 356.7L380.6 371.8 380.6 316.4L381.0 330.2 381.0 367.4L381.4 355.3 381.4 337.4L381.8 329.5 381.8 365.7L382.2 365.9 382.2 329.7L382.6 298.4 382.6 389.5L383.0 381.4 383.0 340.1L383.4 328.0 383.4 370.8L383.8 363.4 383.8 328.5L384.2 328.4 384.2 357.9L384.6 356.6 384.6 321.1L385.0 311.0 385.0 390.0L385.4 367.7 385.4 264.3L385.8 323.3 385.8 362.6L386.2 380.3 386.2 338.3L386.6 322.4 386.6 391.7L387.0 361.6 387.0 331.7L387.4 331.2 387.4 360.0L387.8 356.1 387.8 343.2L388.2 344.0 388.2 362.1L388.6 361.0 388.6 344.6L389.0 322.3 389.0 360.7L389.4 360.6 389.4 342.1L389.8 333.0 389.8 359.8L390.2 354.9 390.2 336.8L390.6 332.2 390.6 363.8L391.0 363.0 391.0 329.1L391.4 332.8 391.4 385.5L391.8 365.7 391.8 314.0L392.2 312.0 392.2 359.0L392.6 383.6 392.6 325.0L393.0 314.1 393.0 356.0L393.4 384.6 393.4 345.5L393.8 326.0 393.8 356.0L394.2 368.5 394.2 333.3L394.6 311.8 394.6 366.7L395.0 394.6 395.0 306.9L395.4 300.0 395.4 414.0L395.8 389.0 395.8 310.7L396.2 323.4 396.2 352.3L396.6 351.9 396.6 319.7L397.0 336.4 397.0 352.0L397.4 367.1 397.4 325.6L397.8 337.9 397.8 357.0L398.2 358.8 398.2 313.7L398.6 336.2 398.6 367.2L399.0 365.5 399.0 324.2L399.4 318.2 399.4 360.5L399.8 358.9 399.8 323.0L400.2 329.1 400.2 369.3L400.6 412.5 400.6 331.0L401.0 340.0 401.0 397.9L401.4 371.2 401.4 301.0L401.8 273.0 401.8 360.7L402.2 374.1 402.2 311.6L402.6 319.3 402.6 379.5L403.0 352.6 403.0 330.8L403.4 324.1 403.4 377.3L403.8 375.2 403.8 309.5L404.2 325.2 404.2 376.6L404.6 378.7 404.6 311.8L405.0 345.3 405.0 359.7L405.4 354.3 405.4 333.7L405.8 333.4 405.8 356.1L406.2 361.7 406.2 327.3L406.6 323.0 406.6 364.3L407.0 363.5 407.0 321.6L407.4 300.3 407.4 364.5L407.8 359.0 407.8 295.1L408.2 340.9 408.2 374.3L408.6 399.0 408.6 314.1L409.0 323.4 409.0 395.4L409.4 366.3 409.4 333.1L409.8 337.1 409.8 364.2L410.2 357.0 410.2 317.3L410.6 316.1 410.6 358.5L411.0 394.0 411.0 326.3L411.4 313.3 411.4 380.8L411.8 386.0 411.8 326.8L412.2 295.6 412.2 376.7L412.6 375.0 412.6 322.3L413.0 320.9 413.0 389.7L413.4 388.7 413.4 308.3L413.8 308.7 413.8 369.4L414.2 359.3 414.2 326.8L414.6 328.2 414.6 361.3L415.0 379.2 415.0 331.8L415.4 305.5 415.4 377.4L415.8 367.7 415.8 322.7L416.2 330.4 416.2 364.1L416.6 408.8 416.6 336.4L417.0 304.7 417.0 387.4L417.4 371.1 417.4 322.7L417.8 311.3 417.8 382.7L418.2 378.7 418.2 334.8L418.6 299.0 418.6 367.6L419.0 371.4 419.0 340.0L419.4 326.3 419.4 367.0L419.8 366.1 419.8 337.3L420.2 329.3 420.2 349.3L420.6 360.7 420.6 324.2L421.0 328.0 421.0 374.7L421.4 441.6 421.4 312.2L421.8 292.6 421.8 357.8L422.2 367.4 422.2 340.4L422.6 322.0 422.6 364.7L423.0 365.9 423.0 326.6L423.4 299.0 423.4 377.1L423.8 368.4 423.8 310.7L424.2 334.2 424.2 367.9L424.6 365.0 424.6 334.1L425.0 342.9 425.0 380.9L425.4 385.4 425.4 313.7L425.8 315.3 425.8 396.3L426.2 388.3 426.2 305.2L426.6 301.5 426.6 367.4L427.0 363.8 427.0 323.2L427.4 293.5 427.4 357.7L427.8 393.7 427.8 250.8L428.2 329.3 428.2 394.9L428.6 355.4 428.6 315.8L429.0 322.1 429.0 393.1L429.4 385.8 429.4 337.3L429.8 327.1 429.8 433.7L430.2 377.9 430.2 310.4L430.6 267.5 430.6 366.9L431.0 376.6 431.0 325.7L431.4 327.5 431.4 380.9L431.8 368.4 431.8 315.5L432.2 285.6 432.2 366.9L432.6 388.7 432.6 292.6L433.0 297.2 433.0 404.7L433.4 385.0 433.4 293.3L433.8 340.6 433.8 382.3L434.2 362.9 434.2 327.7L434.6 311.1 434.6 373.1L435.0 361.6 435.0 326.4L435.4 344.1 435.4 358.1L435.8 366.3 435.8 339.9L436.2 309.1 436.2 371.1L436.6 383.8 436.6 292.0L437.0 316.3 437.0 399.1L437.4 361.6 437.4 317.2L437.8 308.2 437.8 371.7L438.2 371.9 438.2 293.3L438.6 315.2 438.6 367.0L439.0 370.7 439.0 320.2L439.4 326.6 439.4 386.3L439.8 380.0 439.8 328.0L440.2 309.1 440.2 362.6L440.6 379.6 440.6 351.5L441.0 312.9 441.0 378.0L441.4 383.0 441.4 312.3L441.8 329.1 441.8 369.7L442.2 347.7 442.2 321.0L442.6 318.5 442.6 377.4L443.0 361.8 443.0 319.7L443.4 298.8 443.4 360.4L443.8 356.5 443.8 327.2L444.2 333.2 444.2 363.1L444.6 433.9 444.6 335.6L445.0 340.1 445.0 351.7L445.4 363.5 445.4 324.6L445.8 302.3 445.8 382.0L446.2 359.5 446.2 342.4L446.6 332.7 446.6 364.8L447.0 387.6 447.0 334.1L447.4 336.5 447.4 369.5L447.8 368.4 447.8 311.4L448.2 324.4 448.2 363.6L448.6 389.3 448.6 327.6L449.0 330.9 449.0 355.8L449.4 371.4 449.4 336.1L449.8 289.8 449.8 366.8L450.2 384.0 450.2 321.1L450.6 317.5 450.6 388.7L451.0 360.2 451.0 334.4L451.4 328.7 451.4 367.4L451.8 357.0 451.8 330.6L452.2 335.5 452.2 373.6L452.6 384.2 452.6 338.9L453.0 323.9 453.0 383.6L453.4 367.2 453.4 326.9L453.8 292.1 453.8 353.0L454.2 359.6 454.2 319.5L454.6 341.0 454.6 360.3L455.0 358.1 455.0 341.2L455.4 317.0 455.4 357.9L455.8 379.1 455.8 338.3L456.2 332.7 456.2 383.2L456.6 362.8 456.6 325.3L457.0 346.0 457.0 358.6L457.4 369.5 457.4 320.7L457.8 350.4 457.8 384.2L458.2 375.0 458.2 312.7L458.6 312.4 458.6 384.0L459.0 381.8 459.0 325.3L459.4 328.5 459.4 391.7L459.8 365.6 459.8 311.2L460.2 337.9 460.2 358.8L460.6 355.5 460.6 327.9L461.0 323.3 461.0 380.6L461.4 377.8 461.4 312.5L461.8 313.0 461.8 370.7L462.2 375.4 462.2 336.8L462.6 346.2 462.6 376.5L463.0 359.5 463.0 325.6L463.4 321.7 463.4 358.2L463.8 365.5 463.8 339.6L464.2 333.6 464.2 353.1L464.6 364.6 464.6 328.6L465.0 341.3 465.0 373.3L465.4 378.8 465.4 348.1L465.8 324.3 465.8 405.9L466.2 356.4 466.2 337.6L466.6 320.6 466.6 382.7L467.0 369.3 467.0 313.6L467.4 334.8 467.4 363.0L467.8 357.9 467.8 312.8L468.2 303.0 468.2 354.0L468.6 357.6 468.6 341.6L469.0 339.6 469.0 369.2L469.4 356.4 469.4 337.2L469.8 334.1 469.8 351.4L470.2 362.4 470.2 331.7L470.6 311.0 470.6 375.1L471.0 352.1 471.0 323.3L471.4 321.9 471.4 414.9L471.8 361.1 471.8 330.1L472.2 301.0 472.2 380.2L472.6 349.5 472.6 320.6L473.0 326.7 473.0 363.1L473.4 352.4 473.4 309.6L473.8 320.9 473.8 452.1L474.2 365.0 474.2 332.4L474.6 344.0 474.6 360.4L475.0 361.7 475.0 326.1L475.4 328.0 475.4 357.6L475.8 403.9 475.8 319.8L476.2 325.5 476.2 373.4L476.6 363.4 476.6 296.9L477.0 298.4 477.0 376.6L477.4 360.2 477.4 338.4L477.8 308.7 477.8 381.8L478.2 380.3 478.2 297.9L478.6 304.4 478.6 359.2L479.0 364.1 479.0 333.7L479.4 342.8 479.4 394.7L479.8 378.4 479.8 347.3L480.2 315.4 480.2 370.3L480.6 400.3 480.6 317.2L481.0 318.2 481.0 379.0L481.4 353.8 481.4 296.3L481.8 311.9 481.8 361.4L482.2 360.9 482.2 300.4L482.6 327.4 482.6 355.3L483.0 374.8 483.0 304.1L483.4 316.9 483.4 385.4L483.8 374.2 483.8 329.3L484.2 313.9 484.2 374.5L484.6 408.8 484.6 324.1L485.0 321.6 485.0 391.5L485.4 395.3 485.4 316.4L485.8 171.0 485.8 804.5L486.2 439.2 486.2 248.3L486.6 289.2 486.6 400.7L487.0 436.2 487.0 315.9L487.4 310.1 487.4 433.2L487.8 393.7 487.8 331.2L488.2 275.3 488.2 427.3L488.6 494.5 488.6 285.9L489.0 299.7 489.0 362.3L489.4 359.1 489.4 323.8L489.8 316.4 489.8 374.0L490.2 374.4 490.2 328.0L490.6 334.2 490.6 362.6L491.0 397.2 491.0 344.3L491.4 326.2 491.4 440.9L491.8 364.1 491.8 314.3L492.2 310.8 492.2 389.1L492.6 370.4 492.6 278.7L493.0 302.0 493.0 365.1L493.4 390.1 493.4 291.8L493.8 319.0 493.8 371.7L494.2 369.9 494.2 320.8L494.6 329.9 494.6 398.7L495.0 374.0 495.0 314.4L495.4 300.8 495.4 389.8L495.8 382.0 495.8 301.3L496.2 299.3 496.2 366.3L496.6 363.5 496.6 325.8L497.0 299.3 497.0 366.6L497.4 388.8 497.4 302.4L497.8 315.3 497.8 393.0L498.2 364.2 498.2 327.3L498.6 327.1 498.6 378.4L499.0 362.7 499.0 344.8L499.4 309.4 499.4 381.0L499.8 390.5 499.8 321.2L500.2 295.9 500.2 358.7L500.6 373.3 500.6 304.3L501.0 328.0 501.0 366.1L501.4 354.9 501.4 335.4L501.8 310.5 501.8 395.9L502.2 382.9 502.2 324.1L502.6 310.1 502.6 363.8L503.0 364.0 503.0 338.7L503.4 302.1 503.4 364.4L503.8 368.1 503.8 325.5L504.2 320.4 504.2 357.6L504.6 372.1 504.6 331.9L505.0 317.9 505.0 366.3L505.4 368.0 505.4 304.2L505.8 316.2 505.8 372.6L506.2 382.7 506.2 328.6L506.6 309.7 506.6 391.7L507.0 367.2 507.0 321.0L507.4 314.2 507.4 372.5L507.8 372.7 507.8 337.9L508.2 321.7 508.2 372.2L508.6 480.6 508.6 293.7L509.0 318.0 509.0 372.6L509.4 365.2 509.4 313.2L509.8 324.8 509.8 364.0L510.2 370.5 510.2 324.3L510.6 324.8 510.6 357.1L511.0 386.3 511.0 324.6L511.4 315.1 511.4 402.7L511.8 372.3 511.8 308.1L512.2 328.8 512.2 358.0L512.6 358.9 512.6 322.3L513.0 325.4 513.0 363.3L513.4 372.2 513.4 329.1L513.8 316.3 513.8 374.6L514.2 369.8 514.2 297.1L514.6 300.7 514.6 394.5L515.0 357.4 515.0 328.3L515.4 330.0 515.4 362.1L515.8 391.1 515.8 329.4L516.2 318.3 516.2 388.6L516.6 378.4 516.6 308.7L517.0 301.0 517.0 365.2L517.4 418.6 517.4 335.2L517.8 283.3 517.8 384.2L518.2 367.6 518.2 302.0L518.6 307.0 518.6 382.3L519.0 368.9 519.0 310.4L519.4 318.7 519.4 406.4L519.8 379.9 519.8 313.0L520.2 327.3 520.2 369.5L520.6 380.8 520.6 306.9L521.0 288.9 521.0 392.1L521.4 381.2 521.4 303.7L521.8 316.1 521.8 369.2L522.2 363.5 522.2 309.1L522.6 271.8 522.6 379.6L523.0 386.5 523.0 309.8L523.4 323.8 523.4 359.8L523.8 382.3 523.8 331.3L524.2 319.5 524.2 370.1L524.6 393.3 524.6 306.3L525.0 328.7 525.0 393.4L525.4 376.8 525.4 309.3L525.8 295.7 525.8 391.7L526.2 389.8 526.2 333.8L526.6 323.7 526.6 361.1L527.0 368.2 527.0 338.7L527.4 334.6 527.4 370.7L527.8 366.0 527.8 328.6L528.2 330.2 528.2 376.1L528.6 388.4 528.6 305.0L529.0 288.4 529.0 398.3L529.4 382.7 529.4 316.5L529.8 326.3 529.8 365.6L530.2 371.4 530.2 311.5L530.6 321.8 530.6 389.1L531.0 372.5 531.0 316.1L531.4 308.5 531.4 366.8L531.8 426.8 531.8 318.0L532.2 337.6 532.2 366.2L532.6 360.5 532.6 332.2L533.0 296.0 533.0 379.6L533.4 375.5 533.4 336.1L533.8 334.3 533.8 372.0L534.2 363.5 534.2 338.5L534.6 326.1 534.6 361.7L535.0 374.1 535.0 333.9L535.4 318.5 535.4 364.5L535.8 356.0 535.8 342.4L536.2 337.7 536.2 388.1L536.6 377.6 536.6 310.2L537.0 307.7 537.0 380.8L537.4 380.7 537.4 330.9L537.8 317.1 537.8 371.2L538.2 352.1 538.2 314.8L538.6 325.7 538.6 363.3L539.0 355.8 539.0 346.4L539.4 326.9 539.4 360.7L539.8 372.9 539.8 323.7L540.2 314.5 540.2 362.7L540.6 358.9 540.6 333.7L541.0 334.6 541.0 360.0L541.4 363.4 541.4 339.2L541.8 319.1 541.8 360.4L542.2 370.6 542.2 323.0L542.6 311.1 542.6 384.8L543.0 367.6 543.0 311.2L543.4 335.9 543.4 359.0L543.8 383.8 543.8 316.8L544.2 344.0 544.2 367.1L544.6 358.0 544.6 321.5L545.0 330.4 545.0 382.2L545.4 362.3 545.4 334.3L545.8 344.2 545.8 401.0L546.2 371.4 546.2 309.1L546.6 316.1 546.6 360.6L547.0 365.5 547.0 323.8L547.4 334.6 547.4 352.8L547.8 365.5 547.8 330.8L548.2 344.7 548.2 355.7L548.6 355.2 548.6 337.9L549.0 334.8 549.0 358.0L549.4 371.1 549.4 329.1L549.8 335.8 549.8 365.0L550.2 362.3 550.2 319.4L550.6 332.4 550.6 372.3L551.0 381.2 551.0 325.2L551.4 326.9 551.4 379.1L551.8 370.1 551.8 337.6L552.2 323.5 552.2 374.1L552.6 372.4 552.6 315.6L553.0 330.6 553.0 360.1L553.4 357.7 553.4 332.5L553.8 334.0 553.8 357.4L554.2 355.0 554.2 342.8L554.6 328.9 554.6 351.7L555.0 356.6 555.0 340.0L555.4 337.2 555.4 353.5L555.8 373.9 555.8 337.3L556.2 334.8 556.2 368.3L556.6 397.8 556.6 332.9L557.0 323.8 557.0 372.1L557.4 371.1 557.4 323.7L557.8 341.3 557.8 367.8L558.2 352.1 558.2 296.5L558.6 336.6 558.6 362.6L559.0 359.1 559.0 337.2L559.4 346.9 559.4 363.4L559.8 370.2 559.8 331.7L560.2 323.3 560.2 361.8L560.6 362.8 560.6 330.7L561.0 337.6 561.0 372.5L561.4 363.5 561.4 327.8L561.8 343.0 561.8 354.8L562.2 356.5 562.2 344.0L562.6 329.0 562.6 361.2L563.0 365.0 563.0 321.3L563.4 330.6 563.4 362.7L563.8 361.8 563.8 331.5L564.2 329.2 564.2 365.8L564.6 363.7 564.6 332.9L565.0 312.8 565.0 355.7L565.4 386.9 565.4 345.4L565.8 339.3 565.8 364.9L566.2 354.1 566.2 335.7L566.6 343.8 566.6 354.1L567.0 372.3 567.0 342.3L567.4 339.3 567.4 357.5L567.8 351.7 567.8 337.7L568.2 324.7 568.2 375.2L568.6 363.2 568.6 332.6L569.0 333.2 569.0 379.4L569.4 356.0 569.4 322.4L569.8 336.3 569.8 362.3L570.2 360.7 570.2 331.1L570.6 331.0 570.6 358.8L571.0 378.4 571.0 334.3L571.4 309.1 571.4 371.1L571.8 364.9 571.8 342.3L572.2 321.9 572.2 359.5L572.6 359.3 572.6 339.6L573.0 341.2 573.0 364.5L573.4 362.5 573.4 340.3L573.8 340.3 573.8 362.2L574.2 373.3 574.2 337.0L574.6 334.5 574.6 363.6L575.0 363.6 575.0 332.5L575.4 337.5 575.4 365.0L575.8 359.2 575.8 334.4L576.2 343.5 576.2 357.9L576.6 372.1 576.6 325.1L577.0 321.7 577.0 380.8L577.4 355.0 577.4 328.4L577.8 338.3 577.8 356.2L578.2 349.3 578.2 328.2L578.6 335.1 578.6 358.6L579.0 365.1 579.0 341.0L579.4 332.5 579.4 360.3L579.8 358.8 579.8 334.2L580.2 312.8 580.2 414.7L580.6 375.7 580.6 326.3L581.0 320.2 581.0 366.1L581.4 360.7 581.4 337.0L581.8 331.7 581.8 355.4L582.2 350.5 582.2 339.8L582.6 339.4 582.6 365.5L583.0 361.0 583.0 326.3L583.4 320.9 583.4 377.5L583.8 349.1 583.8 336.3L584.2 344.1 584.2 402.0L584.6 359.0 584.6 309.6L585.0 338.1 585.0 362.8L585.4 358.5 585.4 328.8L585.8 316.1 585.8 379.5L586.2 380.8 586.2 332.1L586.6 315.9 586.6 376.4L587.0 377.8 587.0 312.7L587.4 314.3 587.4 373.1L587.8 378.7 587.8 313.9L588.2 318.2 588.2 384.2L588.6 370.7 588.6 329.6L589.0 308.9 589.0 360.7L589.4 358.0 589.4 309.8L589.8 336.5 589.8 354.1L590.2 384.8 590.2 341.3L590.6 322.2 590.6 367.0L591.0 364.7 591.0 342.2L591.4 326.0 591.4 364.4L591.8 358.5 591.8 344.9L592.2 336.0 592.2 361.1L592.6 406.4 592.6 325.1L593.0 292.1 593.0 369.5L593.4 351.6 593.4 322.1L593.8 320.3 593.8 365.7L594.2 375.9 594.2 338.8L594.6 307.7 594.6 373.7L595.0 377.1 595.0 308.4L595.4 297.3 595.4 395.7L595.8 402.7 595.8 331.3L596.2 330.2 596.2 378.3L596.6 380.9 596.6 285.9L597.0 333.0 597.0 365.9L597.4 375.4 597.4 324.1L597.8 333.7 597.8 382.4L598.2 356.6 598.2 318.4L598.6 247.4 598.6 495.3L599.0 360.2 599.0 334.0L599.4 328.8 599.4 385.1L599.8 365.5 599.8 320.4L600.2 319.6 600.2 363.7L600.6 414.9 600.6 315.1L601.0 340.9 601.0 385.1L601.4 377.7 601.4 316.6L601.8 323.2 601.8 392.7L602.2 394.8 602.2 338.6L602.6 333.3 602.6 370.3L603.0 386.9 603.0 323.7L603.4 331.5 603.4 367.7L603.8 391.5 603.8 322.6L604.2 327.9 604.2 394.2L604.6 366.1 604.6 296.9L605.0 301.0 605.0 409.6L605.4 374.8 605.4 333.6L605.8 324.9 605.8 376.8L606.2 410.0 606.2 332.0L606.6 329.3 606.6 359.5L607.0 371.4 607.0 328.5L607.4 309.8 607.4 371.2L607.8 492.5 607.8 322.6L608.2 244.9 608.2 368.4L608.6 370.0 608.6 301.2L609.0 301.9 609.0 377.4L609.4 416.7 609.4 262.2L609.8 325.8 609.8 402.4L610.2 370.2 610.2 306.0L610.6 333.9 610.6 388.6L611.0 370.1 611.0 338.6L611.4 327.6 611.4 358.1L611.8 365.7 611.8 330.6L612.2 301.3 612.2 385.6L612.6 371.0 612.6 303.9L613.0 333.5 613.0 369.2L613.4 391.8 613.4 306.7L613.8 294.0 613.8 378.2L614.2 404.7 614.2 326.3L614.6 292.6 614.6 401.5L615.0 353.3 615.0 316.1L615.4 322.2 615.4 365.2L615.8 392.0 615.8 310.1L616.2 341.3 616.2 367.0L616.6 384.7 616.6 328.9L617.0 312.4 617.0 413.6L617.4 367.0 617.4 293.2L617.8 286.4 617.8 400.2L618.2 405.5 618.2 290.6L618.6 314.9 618.6 405.9L619.0 382.8 619.0 310.4L619.4 296.4 619.4 409.1L619.8 381.8 619.8 301.0L620.2 309.2 620.2 382.1L620.6 407.1 620.6 318.9L621.0 275.3 621.0 384.6L621.4 380.4 621.4 326.2L621.8 327.8 621.8 397.1L622.2 400.1 622.2 320.9L622.6 305.9 622.6 388.7L623.0 431.0 623.0 328.5L623.4 281.7 623.4 368.0L623.8 374.7 623.8 304.5L624.2 292.3 624.2 378.6L624.6 356.7 624.6 317.9L625.0 341.2 625.0 368.0L625.4 375.4 625.4 252.6L625.8 314.3 625.8 374.9L626.2 477.8 626.2 307.9L626.6 340.5 626.6 378.9L627.0 361.0 627.0 326.9L627.4 273.0 627.4 371.3L627.8 359.8 627.8 329.3L628.2 318.9 628.2 370.7L628.6 373.9 628.6 326.9L629.0 293.0 629.0 406.0L629.4 411.1 629.4 280.2L629.8 291.0 629.8 400.0L630.2 385.5 630.2 294.8L630.6 317.8 630.6 402.7L631.0 408.0 631.0 280.7L631.4 297.2 631.4 410.9L631.8 384.5 631.8 276.4L632.2 289.1 632.2 375.2L632.6 378.1 632.6 311.7L633.0 323.7 633.0 376.4L633.4 360.9 633.4 318.5L633.8 298.1 633.8 415.4L634.2 401.1 634.2 244.9L634.6 315.3 634.6 389.1L635.0 366.7 635.0 313.1L635.4 338.2 635.4 361.9L635.8 360.7 635.8 331.1L636.2 328.2 636.2 441.6L636.6 358.6 636.6 327.0L637.0 258.1 637.0 380.0L637.4 387.6 637.4 326.4L637.8 327.2 637.8 389.6L638.2 413.2 638.2 285.9L638.6 331.0 638.6 395.9L639.0 351.9 639.0 312.9L639.4 319.6 639.4 389.3L639.8 407.2 639.8 301.4L640.2 320.2 640.2 375.1L640.6 371.6 640.6 320.0L641.0 320.7 641.0 366.2L641.4 369.9 641.4 327.3L641.8 324.7 641.8 375.3L642.2 453.1 642.2 354.0L642.6 268.1 642.6 357.6L643.0 380.4 643.0 341.6L643.4 314.0 643.4 408.6L643.8 372.5 643.8 296.2L644.2 299.5 644.2 406.7L644.6 367.9 644.6 323.2L645.0 296.5 645.0 371.4L645.4 386.6 645.4 288.3L645.8 309.6 645.8 408.8L646.2 390.8 646.2 299.7L646.6 313.5 646.6 382.3L647.0 367.7 647.0 328.9L647.4 329.4 647.4 363.2L647.8 372.1 647.8 326.2L648.2 305.6 648.2 372.7L648.6 385.6 648.6 303.2L649.0 276.6 649.0 402.8L649.4 390.0 649.4 270.9L649.8 301.0 649.8 375.1L650.2 403.9 650.2 313.4L650.6 315.5 650.6 375.7L651.0 372.3 651.0 306.1L651.4 229.3 651.4 410.6L651.8 392.7 651.8 339.0L652.2 318.0 652.2 423.6L652.6 433.0 652.6 267.3L653.0 301.9 653.0 380.0L653.4 385.4 653.4 299.7L653.8 312.4 653.8 363.7L654.2 379.7 654.2 251.3L654.6 293.7 654.6 417.4L655.0 382.7 655.0 347.6L655.4 339.1 655.4 367.1L655.8 371.6 655.8 340.1L656.2 323.4 656.2 361.7L656.6 362.3 656.6 280.1L657.0 331.1 657.0 372.0L657.4 356.8 657.4 297.3L657.8 320.1 657.8 397.8L658.2 403.5 658.2 301.1L658.6 319.4 658.6 423.6L659.0 369.9 659.0 275.3L659.4 320.2 659.4 367.8L659.8 368.9 659.8 318.8L660.2 319.8 660.2 366.1L660.6 401.5 660.6 329.9L661.0 328.4 661.0 358.5L661.4 365.0 661.4 327.6L661.8 302.1 661.8 368.1L662.2 396.9 662.2 315.4L662.6 307.6 662.6 389.2L663.0 357.6 663.0 316.7L663.4 308.5 663.4 384.3L663.8 371.6 663.8 330.1L664.2 337.8 664.2 363.6L664.6 378.6 664.6 315.3L665.0 302.6 665.0 388.1L665.4 363.8 665.4 325.4L665.8 338.1 665.8 363.8L666.2 354.9 666.2 331.4L666.6 312.6 666.6 379.7L667.0 369.3 667.0 312.7L667.4 325.0 667.4 374.4L667.8 365.1 667.8 330.2L668.2 323.3 668.2 378.9L668.6 367.1 668.6 331.2L669.0 322.4 669.0 365.7L669.4 380.8 669.4 321.2L669.8 332.0 669.8 360.9L670.2 372.1 670.2 320.4L670.6 342.0 670.6 368.0L671.0 375.5 671.0 323.1L671.4 314.7 671.4 378.6L671.8 362.0 671.8 330.3L672.2 323.3 672.2 362.6L672.6 369.4 672.6 333.9L673.0 337.8 673.0 368.5L673.4 371.8 673.4 329.0L673.8 331.3 673.8 366.0L674.2 353.4 674.2 332.2L674.6 340.9 674.6 383.3L675.0 372.2 675.0 329.0L675.4 345.4 675.4 355.6L675.8 380.3 675.8 331.2L676.2 345.9 676.2 373.8L676.6 360.6 676.6 314.2L677.0 320.7 677.0 361.3L677.4 363.0 677.4 331.5L677.8 316.1 677.8 350.6L678.2 364.9 678.2 332.7L678.6 340.0 678.6 356.8L679.0 355.3 679.0 332.4L679.4 330.7 679.4 375.3L679.8 358.3 679.8 315.9L680.2 345.9 680.2 361.1L680.6 372.2 680.6 336.6L681.0 337.7 681.0 361.5L681.4 357.2 681.4 342.4L681.8 342.1 681.8 383.3L682.2 355.0 682.2 308.4L682.6 331.1 682.6 366.8L683.0 355.9 683.0 324.2L683.4 329.2 683.4 354.0L683.8 366.2 683.8 328.8L684.2 330.5 684.2 350.8L684.6 355.6 684.6 324.4L685.0 336.6 685.0 371.1L685.4 357.6 685.4 338.3L685.8 343.5 685.8 368.2L686.2 356.2 686.2 339.3L686.6 338.8 686.6 352.3L687.0 359.6 687.0 329.4L687.4 324.6 687.4 374.4L687.8 376.0 687.8 313.8L688.2 350.3 688.2 365.9L688.6 361.5 688.6 325.6L689.0 325.1 689.0 364.0L689.4 366.5 689.4 328.5L689.8 326.6 689.8 359.9L690.2 365.9 690.2 339.1L690.6 335.8 690.6 350.4L691.0 387.6 691.0 337.7L691.4 323.4 691.4 360.5L691.8 361.1 691.8 339.1L692.2 340.0 692.2 360.8L692.6 348.8 692.6 337.4L693.0 344.1 693.0 363.1L693.4 366.4 693.4 326.0L693.8 316.9 693.8 379.2L694.2 367.6 694.2 342.7L694.6 339.4 694.6 366.8L695.0 385.7 695.0 324.6L695.4 304.2 695.4 364.3L695.8 359.5 695.8 339.9L696.2 319.9 696.2 362.7L696.6 368.2 696.6 328.7L697.0 335.8 697.0 363.1L697.4 363.1 697.4 323.7L697.8 335.3 697.8 367.8L698.2 351.1 698.2 335.7L698.6 324.0 698.6 372.0L699.0 372.5 699.0 336.2L699.4 336.9 699.4 359.1L699.8 367.2 699.8 334.5L700.2 317.1 700.2 374.1L700.6 373.5 700.6 323.2L701.0 336.4 701.0 361.1L701.4 359.1 701.4 334.3L701.8 328.2 701.8 366.4L702.2 356.5 702.2 336.2L702.6 341.9 702.6 367.9L703.0 422.8 703.0 322.1L703.4 324.1 703.4 379.6L703.8 375.2 703.8 316.1L704.2 330.2 704.2 370.0L704.6 368.5 704.6 324.9L705.0 340.8 705.0 376.8L705.4 378.4 705.4 325.9L705.8 305.9 705.8 384.4L706.2 396.2 706.2 312.9L706.6 323.3 706.6 385.4L707.0 401.3 707.0 332.1L707.4 343.5 707.4 396.0L707.8 370.5 707.8 329.7L708.2 328.3 708.2 411.3L708.6 374.0 708.6 338.7L709.0 341.4 709.0 357.9L709.4 348.3 709.4 287.9L709.8 330.0 709.8 366.4L710.2 368.9 710.2 343.8L710.6 319.7 710.6 382.3L711.0 410.0 711.0 315.0L711.4 308.3 711.4 383.8L711.8 401.5 711.8 287.9L712.2 289.8 712.2 408.8L712.6 412.7 712.6 321.6L713.0 329.4 713.0 416.2L713.4 414.6 713.4 293.7L713.8 321.6 713.8 416.7L714.2 374.5 714.2 311.6L714.6 327.8 714.6 370.7L715.0 399.6 715.0 261.7L715.4 338.7 715.4 375.6L715.8 374.6 715.8 342.0L716.2 324.8 716.2 398.1L716.6 412.5 716.6 284.6L717.0 270.0 717.0 384.9L717.4 385.2 717.4 316.9L717.8 280.7 717.8 355.6L718.2 376.0 718.2 308.6L718.6 272.1 718.6 380.9L719.0 394.4 719.0 303.2L719.4 331.6 719.4 368.4L719.8 377.6 719.8 324.2L720.2 338.0 720.2 449.6L720.6 407.4 720.6 233.8L721.0 305.9 721.0 378.7L721.4 547.2 721.4 331.1L721.8 119.0 721.8 420.2L722.2 415.2 722.2 134.3L722.6 313.2 722.6 350.9L723.0 541.5 723.0 293.4L723.4 207.0 723.4 396.8L723.8 415.4 723.8 242.4L724.2 255.3 724.2 430.3L724.6 461.6 724.6 247.7L725.0 312.2 725.0 441.9L725.4 437.2 725.4 280.5L725.8 241.4 725.8 399.4L726.2 379.8 726.2 205.9L726.6 284.6 726.6 439.7L727.0 368.0 727.0 312.2L727.4 312.1 727.4 363.4L727.8 405.7 727.8 323.2L728.2 269.1 728.2 354.2L728.6 385.6 728.6 322.6L729.0 319.1 729.0 411.3L729.4 406.5 729.4 300.3L729.8 287.5 729.8 395.7L730.2 413.5 730.2 286.0L730.6 294.5 730.6 401.0L731.0 385.9 731.0 316.8L731.4 291.3 731.4 376.1L731.8 363.3 731.8 315.0L732.2 316.5 732.2 389.1L732.6 402.7 732.6 292.4L733.0 330.4 733.0 396.7L733.4 374.1 733.4 302.1L733.8 325.5 733.8 380.5L734.2 370.1 734.2 300.5L734.6 334.8 734.6 355.8L735.0 379.5 735.0 335.4L735.4 330.9 735.4 381.8L735.8 378.4 735.8 334.0L736.2 316.7 736.2 414.9L736.6 355.0 736.6 318.8L737.0 339.4 737.0 367.2L737.4 362.2 737.4 323.0L737.8 334.8 737.8 357.9L738.2 363.8 738.2 338.3L738.6 340.3 738.6 363.7L739.0 359.7 739.0 337.3L739.4 258.8 739.4 431.5L739.8 366.5 739.8 329.4L740.2 329.7 740.2 355.9L740.6 356.4 740.6 304.1L741.0 312.5 741.0 370.1L741.4 385.6 741.4 306.3L741.8 284.0 741.8 410.0L742.2 371.6 742.2 326.1L742.6 297.8 742.6 382.1L743.0 368.6 743.0 286.8L743.4 297.3 743.4 385.4L743.8 367.1 743.8 303.4L744.2 314.9 744.2 385.9L744.6 382.6 744.6 311.2L745.0 329.8 745.0 364.5L745.4 359.8 745.4 303.5L745.8 331.0 745.8 369.8L746.2 350.3 746.2 315.9L746.6 334.6 746.6 362.1L747.0 366.1 747.0 324.4L747.4 335.5 747.4 391.7L747.8 368.1 747.8 310.2L748.2 321.2 748.2 383.7L748.6 376.5 748.6 323.2L749.0 319.6 749.0 379.2L749.4 364.5 749.4 335.8L749.8 329.1 749.8 351.4L750.2 351.6 750.2 327.1L750.6 322.0 750.6 376.4L751.0 396.6 751.0 324.3L751.4 320.0 751.4 374.6L751.8 380.8 751.8 314.3L752.2 309.9 752.2 364.6L752.6 351.2 752.6 318.7L753.0 300.4 753.0 493.8L753.4 378.1 753.4 251.3L753.8 315.1 753.8 412.9L754.2 401.5 754.2 319.8L754.6 305.1 754.6 353.7L755.0 386.3 755.0 277.1L755.4 302.6 755.4 405.7L755.8 427.3 755.8 304.0L756.2 331.2 756.2 354.2L756.6 359.9 756.6 269.5L757.0 317.5 757.0 374.6L757.4 385.5 757.4 307.5L757.8 343.9 757.8 389.1L758.2 372.5 758.2 336.8L758.6 324.0 758.6 366.8L759.0 363.6 759.0 334.4L759.4 333.8 759.4 364.5L759.8 370.2 759.8 338.1L760.2 332.2 760.2 360.6L760.6 360.7 760.6 323.5L761.0 316.7 761.0 342.5L761.4 351.8 761.4 328.4L761.8 336.6 761.8 361.4L762.2 400.7 762.2 320.4L762.6 299.5 762.6 359.9L763.0 369.3 763.0 329.0L763.4 310.6 763.4 383.3L763.8 380.3 763.8 327.9L764.2 333.9 764.2 365.8L764.6 360.9 764.6 321.4L765.0 335.1 765.0 363.3L765.4 379.8 765.4 326.4L765.8 328.0 765.8 370.7L766.2 361.1 766.2 330.9L766.6 322.3 766.6 356.8L767.0 398.3 767.0 327.5L767.4 334.1 767.4 366.3L767.8 364.6 767.8 317.8L768.2 321.1 768.2 363.8L768.6 357.6 768.6 304.2L769.0 319.0 769.0 360.9L769.4 370.2 769.4 321.8L769.8 317.9 769.8 366.6L770.2 379.7 770.2 320.8L770.6 340.3 770.6 367.2L771.0 357.5 771.0 331.5L771.4 331.5 771.4 365.8L771.8 370.8 771.8 331.4L772.2 331.9 772.2 397.3L772.6 382.2 772.6 311.4L773.0 337.4 773.0 359.9L773.4 362.7 773.4 318.1L773.8 325.1 773.8 358.4L774.2 382.7 774.2 331.3L774.6 340.0 774.6 402.0L775.0 363.2 775.0 338.9L775.4 342.7 775.4 354.2L775.8 368.8 775.8 326.8L776.2 316.8 776.2 363.3L776.6 347.6 776.6 327.8L777.0 339.2 777.0 356.4L777.4 355.0 777.4 302.8L777.8 316.4 777.8 363.9L778.2 354.8 778.2 313.9L778.6 336.9 778.6 361.4L779.0 361.5 779.0 330.7L779.4 325.2 779.4 384.6L779.8 384.3 779.8 309.2L780.2 330.6 780.2 368.2L780.6 359.6 780.6 332.8L781.0 340.0 781.0 397.8L781.4 353.5 781.4 342.1L781.8 333.0 781.8 354.4L782.2 366.6 782.2 331.1L782.6 330.3 782.6 371.1L783.0 364.7 783.0 333.6L783.4 335.3 783.4 353.6L783.8 362.0 783.8 331.1L784.2 340.1 784.2 366.5L784.6 366.4 784.6 340.3L785.0 324.4 785.0 366.8L785.4 354.1 785.4 338.2L785.8 319.0 785.8 373.9L786.2 393.0 786.2 338.5L786.6 338.4 786.6 368.9L787.0 357.6 787.0 330.6L787.4 330.1 787.4 365.6L787.8 350.8 787.8 328.4L788.2 328.9 788.2 370.6L788.6 378.7 788.6 345.4L789.0 330.9 789.0 361.1L789.4 346.1 789.4 319.6L789.8 329.7 789.8 380.1L790.2 357.5 790.2 341.9L790.6 298.4 790.6 359.8L791.0 358.8 791.0 336.6L791.4 332.4 791.4 386.9L791.8 374.9 791.8 321.0L792.2 329.5 792.2 347.4L792.6 368.6 792.6 333.3L793.0 333.3 793.0 369.8L793.4 363.1 793.4 328.4L793.8 324.3 793.8 365.3L794.2 360.6 794.2 313.0L794.6 331.7 794.6 375.3L795.0 355.0 795.0 334.5L795.4 338.6 795.4 361.0L795.8 352.3 795.8 341.3L796.2 334.1 796.2 360.3L796.6 366.9 796.6 329.8L797.0 330.0 797.0 366.0L797.4 367.0 797.4 321.2L797.8 333.6 797.8 364.6L798.2 433.4 798.2 334.2L798.6 267.9 798.6 355.8L799.0 366.5 799.0 331.9L799.4 310.0 799.4 368.5L799.8 372.8 799.8 315.7L800.2 327.4 800.2 360.7L800.6 381.0 800.6 322.9L801.0 322.0 801.0 369.9L801.4 357.5 801.4 341.5L801.8 318.0 801.8 370.4L802.2 383.9 802.2 318.7L802.6 326.6 802.6 402.2L803.0 354.2 803.0 331.5L803.4 318.0 803.4 357.2L803.8 362.3 803.8 327.7L804.2 299.5 804.2 359.8L804.6 360.3 804.6 326.0L805.0 332.1 805.0 382.1L805.4 360.0 805.4 336.7L805.8 343.9 805.8 364.2L806.2 365.3 806.2 342.0L806.6 341.8 806.6 365.0L807.0 356.4 807.0 337.6L807.4 329.0 807.4 364.5L807.8 426.0 807.8 329.8L808.2 328.4 808.2 372.0L808.6 361.5 808.6 320.9L809.0 319.7 809.0 367.6L809.4 373.4 809.4 338.0L809.8 337.8 809.8 356.1L810.2 400.7 810.2 344.9L810.6 340.6 810.6 362.4L811.0 366.1 811.0 330.0L811.4 319.8 811.4 378.7L811.8 357.8 811.8 302.3L812.2 326.4 812.2 353.1L812.6 356.5 812.6 341.0L813.0 332.6 813.0 355.3L813.4 365.3 813.4 322.7L813.8 333.7 813.8 359.8L814.2 369.6 814.2 332.3L814.6 337.4 814.6 355.6L815.0 374.4 815.0 319.2L815.4 338.1 815.4 371.0L815.8 360.9 815.8 342.0L816.2 337.0 816.2 355.1L816.6 360.9 816.6 338.4L817.0 339.1 817.0 353.4L817.4 357.2 817.4 333.5L817.8 337.6 817.8 364.9L818.2 386.9 818.2 332.9L818.6 341.5 818.6 363.5L819.0 359.2 819.0 323.0L819.4 328.0 819.4 366.9L819.8 360.0 819.8 339.4L820.2 322.8 820.2 364.6L820.6 363.8 820.6 323.6L821.0 336.8 821.0 355.6L821.4 362.1 821.4 343.1L821.8 319.0 821.8 367.8L822.2 364.6 822.2 329.4L822.6 333.5 822.6 371.3L823.0 366.9 823.0 333.5L823.4 337.7 823.4 368.2L823.8 369.5 823.8 328.0L824.2 319.7 824.2 371.0L824.6 377.1 824.6 322.8L825.0 324.4 825.0 371.2L825.4 356.2 825.4 318.2L825.8 314.9 825.8 436.7L826.2 367.4 826.2 339.1L826.6 340.1 826.6 373.9L827.0 362.4 827.0 339.0L827.4 292.6 827.4 366.2L827.8 370.8 827.8 304.7L828.2 323.1 828.2 369.0L828.6 401.5 828.6 333.8L829.0 337.8 829.0 364.4L829.4 360.2 829.4 316.0L829.8 338.7 829.8 369.9L830.2 356.3 830.2 334.5L830.6 328.8 830.6 363.2L831.0 358.5 831.0 331.6L831.4 332.9 831.4 379.3L831.8 381.8 831.8 333.0L832.2 308.6 832.2 363.0L832.6 364.0 832.6 341.2L833.0 330.2 833.0 370.8L833.4 363.7 833.4 335.9L833.8 340.5 833.8 418.6L834.2 349.4 834.2 303.5L834.6 335.4 834.6 355.2L835.0 360.8 835.0 333.6L835.4 334.3 835.4 417.4L835.8 361.4 835.8 246.5L836.2 340.0 836.2 362.4L836.6 366.8 836.6 318.6L837.0 336.7 837.0 361.2L837.4 383.5 837.4 317.8L837.8 328.0 837.8 375.2L838.2 375.5 838.2 311.2L838.6 337.3 838.6 366.6L839.0 377.2 839.0 337.5L839.4 328.0 839.4 370.1L839.8 385.3 839.8 326.1L840.2 339.9 840.2 400.3L840.6 358.8 840.6 303.5L841.0 335.9 841.0 350.6L841.4 375.7 841.4 318.9L841.8 331.5 841.8 372.0L842.2 366.5 842.2 331.3L842.6 324.1 842.6 412.0L843.0 353.7 843.0 318.9L843.4 331.0 843.4 364.9L843.8 360.5 843.8 304.6L844.2 331.8 844.2 389.1L844.6 381.5 844.6 334.8L845.0 332.4 845.0 361.1L845.4 359.0 845.4 337.4L845.8 336.3 845.8 380.0L846.2 364.3 846.2 321.0L846.6 336.0 846.6 364.6L847.0 384.4 847.0 311.9L847.4 337.0 847.4 368.0L847.8 390.8 847.8 307.2L848.2 309.2 848.2 392.6L848.6 443.4 848.6 254.2L849.0 308.7 849.0 397.1L849.4 405.0 849.4 270.8L849.8 161.5 849.8 615.8L850.2 440.1 850.2 205.8L850.6 288.5 850.6 378.0L851.0 389.3 851.0 318.3L851.4 294.9 851.4 401.8L851.8 375.2 851.8 323.2L852.2 283.3 852.2 380.0L852.6 475.2 852.6 327.8L853.0 312.3 853.0 366.6L853.4 401.7 853.4 307.8L853.8 332.1 853.8 371.7L854.2 365.0 854.2 334.8L854.6 331.9 854.6 376.9L855.0 377.5 855.0 325.4L855.4 318.2 855.4 364.2L855.8 424.1 855.8 322.6L856.2 331.5 856.2 385.1L856.6 352.9 856.6 302.1L857.0 307.8 857.0 363.4L857.4 375.6 857.4 322.6L857.8 308.4 857.8 387.3L858.2 385.4 858.2 304.7L858.6 336.4 858.6 381.2L859.0 359.7 859.0 322.5L859.4 315.8 859.4 403.4L859.8 364.3 859.8 318.6L860.2 299.1 860.2 356.7L860.6 363.4 860.6 321.3L861.0 319.8 861.0 374.3L861.4 371.2 861.4 334.6L861.8 337.9 861.8 357.7L862.2 378.8 862.2 343.4L862.6 318.8 862.6 394.2L863.0 382.0 863.0 337.1L863.4 311.7 863.4 362.1L863.8 379.0 863.8 317.9L864.2 334.6 864.2 376.3L864.6 387.8 864.6 319.2L865.0 313.9 865.0 364.1L865.4 369.4 865.4 331.5L865.8 323.7 865.8 369.2L866.2 391.7 866.2 324.2L866.6 334.1 866.6 369.7L867.0 369.7 867.0 334.2L867.4 332.6 867.4 370.8L867.8 383.5 867.8 322.5L868.2 333.8 868.2 367.2L868.6 397.1 868.6 332.4L869.0 331.8 869.0 367.4L869.4 349.0 869.4 304.9L869.8 323.3 869.8 376.4L870.2 353.9 870.2 335.6" fill="none" stroke="#000" stroke-width="1.33" stroke-linejoin="round" stroke-linecap="round"/>
<rect x="146.5" y="92.2" width="751.0" height="739.1" fill="none" stroke="#000" stroke-width="1.3"/>
<path d="M174.00 831.3H847.50M174.00 831.3v12.5M286.25 831.3v12.5M398.50 831.3v12.5M510.75 831.3v12.5M623.00 831.3v12.5M735.25 831.3v12.5M847.50 831.3v12.5M146.5 769.20V138.30M146.5 769.20h-12.5M146.5 664.05h-12.5M146.5 558.90h-12.5M146.5 453.75h-12.5M146.5 348.60h-12.5M146.5 243.45h-12.5M146.5 138.30h-12.5" fill="none" stroke="#000" stroke-width="1.3"/>
<text x="174.00" y="874.8" text-anchor="middle" font-size="20.0">1960</text>
<text x="286.25" y="874.8" text-anchor="middle" font-size="20.0">1970</text>
<text x="398.50" y="874.8" text-anchor="middle" font-size="20.0">1980</text>
<text x="510.75" y="874.8" text-anchor="middle" font-size="20.0">1990</text>
<text x="623.00" y="874.8" text-anchor="middle" font-size="20.0">2000</text>
<text x="735.25" y="874.8" text-anchor="middle" font-size="20.0">2010</text>
<text x="847.50" y="874.8" text-anchor="middle" font-size="20.0">2020</text>
<text transform="translate(117.6,769.90) rotate(-90)" text-anchor="middle" font-size="20.0">-20</text>
<text transform="translate(117.6,664.75) rotate(-90)" text-anchor="middle" font-size="20.0">-15</text>
<text transform="translate(117.6,559.60) rotate(-90)" text-anchor="middle" font-size="20.0">-10</text>
<text transform="translate(117.6,454.45) rotate(-90)" text-anchor="middle" font-size="20.0">-5</text>
<text transform="translate(117.6,348.70) rotate(-90)" text-anchor="middle" font-size="20.0">0</text>
<text transform="translate(117.6,243.55) rotate(-90)" text-anchor="middle" font-size="20.0">5</text>
<text transform="translate(117.6,138.40) rotate(-90)" text-anchor="middle" font-size="20.0">10</text>
<text x="522.00" y="923" text-anchor="middle" font-size="20.0">Time (days)</text>
<text transform="translate(69.9,461.75) rotate(-90)" text-anchor="middle" font-size="20.0">Daily log-return (%)</text>
<text x="522.00" y="52.1" text-anchor="middle" font-size="24.0" font-weight="bold">Daily log-returns of SP500</text>
</g>
</svg>
</body></html>
